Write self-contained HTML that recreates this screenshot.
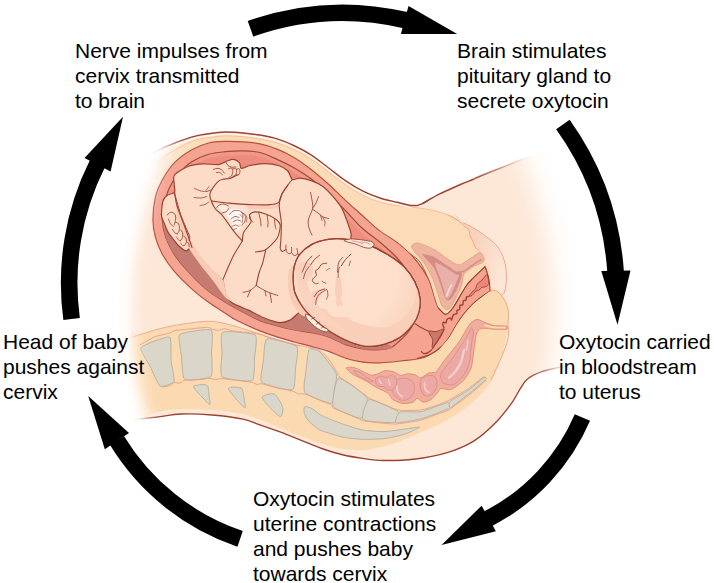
<!DOCTYPE html>
<html><head><meta charset="utf-8">
<style>
html,body{margin:0;padding:0;background:#fff;}
body{width:714px;height:583px;position:relative;overflow:hidden;font-family:"Liberation Sans",sans-serif;}
.t{position:absolute;font-size:21px;line-height:25px;color:#000;white-space:nowrap;}
svg{position:absolute;left:0;top:0;}
</style></head><body>
<svg id="art" width="714" height="583" viewBox="0 0 714 583">
<!--ART-->
<defs><linearGradient id="fatg" gradientUnits="userSpaceOnUse" x1="160" y1="190" x2="215" y2="150"><stop offset="0" stop-color="#fbdcb6" stop-opacity="0"/><stop offset="1" stop-color="#fbdcb6" stop-opacity="1"/></linearGradient><linearGradient id="lineg" gradientUnits="userSpaceOnUse" x1="470" y1="0" x2="535" y2="0"><stop offset="0" stop-color="#9b4330" stop-opacity="1"/><stop offset="1" stop-color="#9b4330" stop-opacity="0"/></linearGradient><radialGradient id="headg" gradientUnits="userSpaceOnUse" cx="350" cy="278" r="78"><stop offset="0" stop-color="#fde2cf"/><stop offset="0.6" stop-color="#fddfcb"/><stop offset="0.85" stop-color="#fbd6c0"/><stop offset="1" stop-color="#f9cdb5"/></radialGradient><linearGradient id="darkg" gradientUnits="userSpaceOnUse" x1="0" y1="188" x2="0" y2="232"><stop offset="0" stop-color="#c67b70" stop-opacity="0"/><stop offset="1" stop-color="#c67b70" stop-opacity="1"/></linearGradient><linearGradient id="labg" gradientUnits="userSpaceOnUse" x1="470" y1="250" x2="506" y2="262"><stop offset="0" stop-color="#f8d2bd"/><stop offset="1" stop-color="#fde6d6"/></linearGradient><filter id="bl7" x="-20%" y="-20%" width="140%" height="140%"><feGaussianBlur stdDeviation="7"/></filter><filter id="bl12" x="-20%" y="-20%" width="140%" height="140%"><feGaussianBlur stdDeviation="12"/></filter><clipPath id="lh"><rect x="0" y="0" width="345" height="583"/></clipPath><clipPath id="rh"><rect x="345" y="0" width="369" height="583"/></clipPath><mask id="fade" maskUnits="userSpaceOnUse" x="0" y="0" width="714" height="583"><g clip-path="url(#lh)"><ellipse cx="345" cy="310" rx="213" ry="290" fill="#fff" filter="url(#bl7)"/></g><g clip-path="url(#rh)"><ellipse cx="345" cy="310" rx="209" ry="290" fill="#fff" filter="url(#bl12)"/></g></mask></defs>
<g mask="url(#fade)">
<path d="M120.0 172.0C123.3 170.0 132.5 164.2 140.0 160.0C147.5 155.8 156.4 150.8 165.0 147.0C173.6 143.2 184.1 139.3 191.4 137.1C198.7 134.9 202.9 134.5 208.6 133.7C214.3 132.8 220.0 132.1 225.7 132.0C231.4 131.9 237.2 132.4 242.9 132.9C248.6 133.4 254.3 134.1 260.0 135.1C265.7 136.1 271.4 137.1 277.1 138.9C282.8 140.7 288.6 143.0 294.3 145.7C300.0 148.4 305.7 151.4 311.4 155.1C317.1 158.8 322.9 163.7 328.6 168.0C334.3 172.3 340.0 177.1 345.7 180.9C351.4 184.8 357.2 188.2 362.9 191.1C368.6 193.9 374.3 196.1 380.0 198.0C385.7 199.9 392.9 201.2 397.1 202.3C401.3 203.4 402.6 203.8 405.0 204.3C407.4 204.9 410.2 205.4 411.2 205.6L416.8 205.6C417.7 205.3 420.5 204.5 422.4 203.6C424.3 202.7 425.2 201.9 428.0 200.3C430.8 198.7 435.5 196.0 439.2 194.1C442.9 192.2 446.7 190.7 450.4 189.0C454.1 187.3 457.9 185.6 461.6 184.0C465.3 182.4 469.7 180.8 472.8 179.5C475.9 178.2 475.5 178.1 480.0 176.2C484.5 174.3 493.2 170.9 500.0 168.2C506.8 165.5 515.8 161.8 521.0 159.8C526.2 157.8 525.0 158.3 531.5 156.3C538.0 154.3 545.2 151.6 560.0 148.0C574.8 144.4 610.0 137.2 620.0 135.0L620.0 352.0L620.0 352.0C613.3 353.7 590.3 359.4 580.0 362.0C569.7 364.6 564.7 366.0 558.2 367.6C551.8 369.2 546.3 370.0 541.3 371.9C536.2 373.8 531.2 376.2 527.9 378.7C524.5 381.2 524.0 382.9 521.2 387.1C518.4 391.3 515.6 397.8 511.1 403.9C506.6 410.0 500.5 417.9 494.3 424.0C488.1 430.1 482.0 436.0 474.1 440.8C466.2 445.6 457.3 449.5 447.2 452.6C437.1 455.7 424.2 458.0 413.6 459.3C403.0 460.6 391.9 460.6 383.5 460.5C375.1 460.4 369.8 459.4 362.9 458.4C356.0 457.4 349.2 456.3 342.4 454.7C335.5 453.1 328.7 450.9 321.8 448.5C314.9 446.1 308.1 443.0 301.2 440.3C294.3 437.6 287.5 434.7 280.6 432.1C273.7 429.5 266.3 427.1 260.0 424.9C253.7 422.7 251.0 420.8 243.0 419.1C235.0 417.5 222.4 415.9 212.1 415.0C201.8 414.1 190.5 413.6 181.2 414.0C171.9 414.4 166.7 415.3 156.5 417.1C146.3 418.9 126.1 423.7 120.0 425.0Z" fill="#fde7d7" stroke="none" stroke-width="1" />
<path d="M455.0 215.0C454.1 212.7 460.7 221.0 463.2 222.8C465.7 224.6 470.9 226.3 474.0 228.2C477.1 230.1 483.4 234.5 486.3 236.7C489.2 238.9 493.5 242.1 495.6 244.4C497.7 246.7 500.4 250.8 501.7 253.7C503.0 256.6 505.0 262.5 505.6 266.0C506.2 269.5 506.5 276.5 506.4 280.0C506.3 283.5 505.2 289.9 504.5 292.0C503.8 294.1 503.2 295.6 501.3 295.5C499.4 295.4 492.3 294.9 490.0 291.0C487.7 287.1 486.7 272.8 484.0 266.0C481.3 259.2 473.9 246.8 470.0 240.0C466.1 233.2 455.9 217.3 455.0 215.0Z" fill="url(#labg)" stroke="none" stroke-width="1" />
<path d="M150.0 168.0C153.3 165.5 163.1 157.4 170.0 153.0C176.9 148.6 185.0 144.1 191.4 141.5C197.8 138.9 202.9 138.5 208.6 137.6C214.3 136.7 220.0 136.0 225.7 135.8C231.4 135.7 237.2 136.2 242.9 136.7C248.6 137.2 254.3 138.0 260.0 139.0C265.7 140.0 271.4 141.1 277.1 142.9C282.8 144.7 288.6 147.0 294.3 149.7C300.0 152.4 305.7 155.6 311.4 159.3C317.1 163.0 322.9 167.7 328.6 172.0C334.3 176.3 340.0 181.1 345.7 185.0C351.4 188.9 357.2 192.3 362.9 195.2C368.6 198.1 374.3 200.6 380.0 202.3C385.7 204.0 391.3 204.5 397.0 205.3C402.7 206.2 408.6 206.6 414.3 207.4C420.0 208.2 425.7 208.7 431.4 210.0C437.1 211.3 444.2 213.3 448.6 215.1C453.0 216.8 455.4 218.7 458.0 220.5C460.6 222.3 462.1 224.4 464.0 226.0C465.9 227.6 468.1 228.6 469.1 230.3C470.1 232.0 469.3 234.0 470.0 236.0C470.7 238.0 472.6 240.5 473.4 242.3C474.2 244.1 474.0 245.6 475.0 247.0C476.0 248.4 478.7 250.2 479.4 250.9L487.0 262.0C487.2 263.7 490.8 265.7 488.0 272.0C485.2 278.3 476.3 292.3 470.0 300.0C463.7 307.7 456.7 318.0 450.0 318.0C443.3 318.0 438.3 311.3 430.0 300.0C421.7 288.7 413.3 261.7 400.0 250.0C386.7 238.3 366.7 238.3 350.0 230.0C333.3 221.7 316.7 210.0 300.0 200.0C283.3 190.0 266.7 176.7 250.0 170.0C233.3 163.3 214.2 159.2 200.0 160.0C185.8 160.8 173.3 170.8 165.0 175.0C156.7 179.2 152.5 183.3 150.0 185.0Z" fill="url(#fatg)" stroke="none" stroke-width="1" />
<path d="M150.0 168.0C153.3 165.5 163.1 157.4 170.0 153.0C176.9 148.6 185.0 144.1 191.4 141.5C197.8 138.9 202.9 138.5 208.6 137.6C214.3 136.7 220.0 136.0 225.7 135.8C231.4 135.7 237.2 136.2 242.9 136.7C248.6 137.2 254.3 138.0 260.0 139.0C265.7 140.0 271.4 141.1 277.1 142.9C282.8 144.7 288.6 147.0 294.3 149.7C300.0 152.4 305.7 155.6 311.4 159.3C317.1 163.0 322.9 167.7 328.6 172.0C334.3 176.3 340.0 181.1 345.7 185.0C351.4 188.9 357.2 192.3 362.9 195.2C368.6 198.1 374.3 200.6 380.0 202.3C385.7 204.0 391.3 204.5 397.0 205.3C402.7 206.2 408.6 206.6 414.3 207.4C420.0 208.2 425.7 208.7 431.4 210.0C437.1 211.3 444.2 213.3 448.6 215.1C453.0 216.8 456.4 219.6 458.0 220.5" fill="none" stroke="#f3b58f" stroke-width="0.8" />
<path d="M448.6 215.1C450.2 216.0 455.4 218.7 458.0 220.5C460.6 222.3 462.1 224.4 464.0 226.0C465.9 227.6 468.1 228.6 469.1 230.3C470.1 232.0 469.3 234.0 470.0 236.0C470.7 238.0 472.6 240.5 473.4 242.3C474.2 244.1 474.0 245.6 475.0 247.0C476.0 248.4 478.7 250.2 479.4 250.9" fill="none" stroke="#e79a7c" stroke-width="0.8" />
<path d="M130.0 338.0C131.7 324.1 134.9 336.3 140.0 334.7C145.1 333.1 153.7 330.2 160.6 328.5C167.5 326.8 173.3 325.6 181.2 324.4C189.1 323.2 200.1 321.3 208.0 321.3C215.9 321.3 220.6 322.5 228.5 324.4C236.4 326.3 246.7 329.9 255.3 332.6C263.9 335.4 272.6 338.7 280.0 340.9C287.4 343.1 291.7 343.8 300.0 346.0C308.3 348.2 320.0 352.0 330.0 354.0C340.0 356.0 348.3 358.0 360.0 358.0C371.7 358.0 386.7 357.0 400.0 354.0C413.3 351.0 429.0 346.0 440.0 340.0C451.0 334.0 459.0 325.0 466.0 318.0C473.0 311.0 478.0 302.8 482.0 298.0C486.0 293.2 487.0 290.0 490.0 289.0C493.0 288.0 497.2 289.6 500.0 292.0C502.8 294.4 505.5 299.6 507.0 303.4C508.5 307.2 508.8 311.2 509.0 315.0C509.2 318.8 508.6 321.8 508.0 326.0C507.4 330.2 506.4 335.9 505.6 340.0C504.9 344.1 505.2 345.3 503.5 350.9C501.8 356.5 498.7 366.6 495.3 373.5C491.9 380.4 488.4 385.9 482.9 392.1C477.4 398.3 469.2 405.5 462.4 410.6C455.5 415.8 448.7 419.4 441.8 423.0C434.9 426.6 428.1 429.2 421.2 432.2C414.3 435.2 406.9 438.6 400.6 441.0C394.3 443.4 389.8 445.0 383.5 446.5C377.2 448.0 369.8 449.6 362.9 450.0C356.0 450.4 349.2 450.0 342.4 449.0C335.5 448.0 328.7 446.1 321.8 444.0C314.9 441.9 308.1 438.9 301.2 436.2C294.3 433.5 287.5 430.6 280.6 427.9C273.7 425.1 266.3 422.0 260.0 419.7C253.7 417.4 251.0 415.6 243.0 414.0C235.0 412.4 222.4 410.8 212.1 410.0C201.8 409.2 190.5 408.7 181.2 409.0C171.9 409.3 165.0 410.5 156.5 412.0C148.0 413.5 134.4 430.3 130.0 418.0C125.6 405.7 128.3 351.9 130.0 338.0Z" fill="#fbdab2" stroke="none" stroke-width="1" />
<path d="M130.0 338.0C131.7 337.4 134.9 336.3 140.0 334.7C145.1 333.1 153.7 330.2 160.6 328.5C167.5 326.8 173.3 325.6 181.2 324.4C189.1 323.2 200.1 321.3 208.0 321.3C215.9 321.3 220.6 322.5 228.5 324.4C236.4 326.3 246.7 329.9 255.3 332.6C263.9 335.4 272.6 338.7 280.0 340.9C287.4 343.1 296.7 345.1 300.0 346.0" fill="none" stroke="#eda588" stroke-width="0.9" />
<path d="M141.0 347.5C142.6 345.1 167.0 336.0 169.5 337.0C172.0 338.0 170.6 356.3 171.0 360.0C171.4 363.7 174.9 379.3 174.0 381.5C173.1 383.7 162.0 387.3 160.0 386.0C158.0 384.7 151.6 369.2 150.0 366.0C148.4 362.8 139.4 349.9 141.0 347.5Z" fill="#dad6ca" stroke="#b3aea2" stroke-width="0.9" />
<path d="M179.8 334.5C182.3 332.3 208.4 328.3 211.0 329.8C213.6 331.3 211.5 348.1 211.5 352.0C211.5 355.9 213.2 374.2 211.0 376.5C208.8 378.8 187.1 381.1 184.6 379.4C182.1 377.7 181.9 359.7 181.5 356.0C181.1 352.3 177.3 336.7 179.8 334.5Z" fill="#dad6ca" stroke="#b3aea2" stroke-width="0.9" />
<path d="M222.6 332.2C225.4 330.6 252.5 332.9 255.2 335.0C257.9 337.1 254.8 354.2 254.5 358.0C254.2 361.8 254.9 379.0 252.2 380.6C249.5 382.2 224.5 379.0 222.0 376.8C219.5 374.6 221.9 357.7 222.0 354.0C222.1 350.3 219.8 333.8 222.6 332.2Z" fill="#dad6ca" stroke="#b3aea2" stroke-width="0.9" />
<path d="M267.0 338.8C269.8 337.7 294.4 344.2 296.8 346.6C299.2 349.0 295.9 364.4 295.5 368.0C295.1 371.6 295.4 388.6 292.6 389.8C289.8 391.0 264.2 384.8 261.8 382.3C259.4 379.8 263.1 363.6 263.5 360.0C263.9 356.4 264.2 339.9 267.0 338.8Z" fill="#dad6ca" stroke="#b3aea2" stroke-width="0.9" />
<path d="M309.2 349.2C310.4 347.7 317.7 350.0 320.0 352.0C322.3 354.0 335.1 370.7 336.3 373.7C337.5 376.7 334.9 385.5 334.5 388.0C334.1 390.5 334.0 403.1 331.5 403.5C329.0 403.9 306.9 395.4 304.8 392.6C302.7 389.8 305.6 373.6 306.0 370.0C306.4 366.4 308.0 350.7 309.2 349.2Z" fill="#dad6ca" stroke="#b3aea2" stroke-width="0.9" />
<path d="M338.6 378.0C341.4 377.3 365.1 394.4 367.0 397.8C368.9 401.2 363.8 417.5 361.0 418.2C358.2 418.9 335.2 409.9 333.3 406.5C331.4 403.1 335.8 378.7 338.6 378.0Z" fill="#dad6ca" stroke="#b3aea2" stroke-width="0.9" />
<path d="M369.0 399.5C371.9 398.8 395.9 409.6 398.0 411.5C400.1 413.4 396.7 421.8 393.8 422.5C390.9 423.2 365.1 421.4 363.0 419.5C360.9 417.6 366.1 400.2 369.0 399.5Z" fill="#dad6ca" stroke="#b3aea2" stroke-width="0.9" />
<path d="M400.0 412.0C402.1 411.1 417.2 412.4 421.2 411.6C425.2 410.8 445.6 402.7 447.9 402.4C450.2 402.1 450.7 407.1 448.5 408.5C446.3 409.9 425.6 417.6 421.2 418.8C416.8 420.0 397.8 423.4 396.0 422.8C394.2 422.2 397.9 412.9 400.0 412.0Z" fill="#dad6ca" stroke="#b3aea2" stroke-width="0.9" />
<path d="M450.0 401.5C451.5 400.0 465.7 392.0 468.5 390.0C471.3 388.0 482.5 378.5 484.0 377.6C485.5 376.7 487.3 378.1 486.0 379.5C484.7 380.9 471.5 391.8 468.5 394.1C465.5 396.4 452.0 406.9 450.5 407.5C449.0 408.1 448.5 403.0 450.0 401.5Z" fill="#dad6ca" stroke="#b3aea2" stroke-width="0.9" />
<path d="M193.5 386.5C194.0 384.8 204.8 384.0 206.9 385.3C209.0 386.6 208.6 393.4 209.0 396.0C209.4 398.6 210.8 404.4 210.0 404.7C209.2 405.0 205.2 400.4 203.0 398.0C200.8 395.6 193.0 388.2 193.5 386.5Z" fill="#dad6ca" stroke="#b3aea2" stroke-width="0.9" />
<path d="M228.5 388.4C229.0 386.8 238.9 386.7 241.0 388.0C243.1 389.3 243.5 395.4 244.0 398.0C244.5 400.6 245.9 407.5 245.0 407.8C244.1 408.1 239.2 402.6 237.0 400.0C234.8 397.4 228.0 390.0 228.5 388.4Z" fill="#dad6ca" stroke="#b3aea2" stroke-width="0.9" />
<path d="M262.3 397.0C262.8 395.2 271.7 392.8 274.4 394.2C277.1 395.6 281.8 404.4 282.6 407.4C283.4 410.4 282.2 416.5 280.6 416.6C279.0 416.7 272.7 410.6 270.3 408.0C267.9 405.4 261.8 398.8 262.3 397.0Z" fill="#dad6ca" stroke="#b3aea2" stroke-width="0.9" />
<path d="M304.5 407.0C305.4 406.2 308.7 406.9 311.0 408.0C313.3 409.1 317.6 413.5 321.8 415.6C326.0 417.7 336.9 421.9 342.4 423.8C347.9 425.7 357.2 429.0 362.9 430.0C368.6 431.0 378.5 431.8 385.0 431.5C391.5 431.2 407.4 428.6 412.0 428.0C416.6 427.4 420.4 426.5 419.5 427.3C418.6 428.1 409.6 432.5 405.0 434.0C400.4 435.5 390.6 437.8 385.0 438.5C379.4 439.2 368.2 439.4 362.9 439.3C357.6 439.2 349.1 438.2 345.0 437.5C340.9 436.8 335.3 435.1 332.0 434.1C328.7 433.1 323.0 431.6 320.0 430.0C317.0 428.4 311.5 423.9 309.4 421.8C307.3 419.7 305.2 416.0 304.5 414.0C303.8 412.0 303.6 407.8 304.5 407.0Z" fill="#dad6ca" stroke="#b3aea2" stroke-width="0.9" />
<path d="M140.0 344.9C141.7 344.0 151.2 338.3 154.6 336.9C158.0 335.5 166.8 334.0 169.2 333.2C171.6 332.4 173.3 330.7 175.0 330.3C176.7 329.9 181.0 329.9 183.7 329.6C186.4 329.3 195.4 328.4 198.3 328.1C201.2 327.8 206.8 327.2 208.5 327.4C210.2 327.6 211.7 329.3 212.9 329.6C214.1 329.9 217.3 330.4 218.7 330.3C220.1 330.2 223.2 328.6 224.6 328.6C226.0 328.6 228.6 329.9 230.4 330.3C232.2 330.7 237.1 331.4 240.0 331.8C242.9 332.2 252.9 333.1 255.3 333.4C257.8 333.7 259.7 334.1 261.0 334.5C262.3 334.9 264.2 335.8 266.6 336.6C269.1 337.4 278.5 340.0 282.0 341.0C285.5 342.0 294.4 344.6 296.8 345.2C299.2 345.8 301.6 345.7 303.0 346.0C304.4 346.3 307.2 347.1 309.2 347.6C311.2 348.1 317.6 348.9 320.0 350.5C322.4 352.1 328.0 358.4 330.0 361.0C332.0 363.6 336.4 371.2 337.5 373.0C338.6 374.8 337.2 375.0 339.0 376.5C340.8 378.0 349.7 383.7 353.0 386.0C356.3 388.3 365.1 394.9 367.0 396.3C368.9 397.7 367.0 397.0 369.0 398.0C371.0 399.0 380.6 403.1 384.0 404.5C387.4 405.9 395.0 409.3 398.0 410.0C401.0 410.7 407.3 410.3 410.0 410.3C412.7 410.3 418.3 410.5 421.2 410.0C424.1 409.5 431.9 407.1 435.0 406.0C438.1 404.9 445.2 402.1 447.9 400.8C450.6 399.5 455.6 396.4 458.0 395.0C460.4 393.6 466.3 390.0 468.5 388.5C470.7 387.0 475.2 383.4 477.0 382.0C478.8 380.6 483.2 377.0 484.0 376.3" fill="none" stroke="#e79e86" stroke-width="0.9" />
<path d="M161.9 387.0C162.9 386.8 169.2 386.0 170.6 385.5C172.0 385.0 172.3 383.1 173.5 382.8C174.7 382.5 179.6 383.3 180.8 383.0C182.0 382.7 181.7 380.9 183.7 380.5C185.7 380.1 195.2 379.8 198.3 379.6C201.4 379.4 208.0 378.4 210.0 378.4C212.0 378.4 214.4 379.6 215.8 379.6C217.2 379.6 218.8 378.5 221.6 378.6C224.4 378.7 236.4 380.4 240.0 380.8C243.6 381.2 250.2 381.9 252.2 382.3C254.2 382.7 255.9 384.3 257.0 384.5C258.1 384.7 259.5 383.4 261.8 383.8C264.1 384.2 273.4 387.1 277.0 388.0C280.6 388.9 290.1 390.5 292.6 391.2C295.1 391.9 297.1 393.7 298.5 394.0C299.9 394.3 302.5 393.4 304.8 394.0C307.1 394.6 314.9 398.2 318.0 399.5C321.1 400.8 329.8 404.0 331.5 405.0C333.2 406.0 331.2 407.0 333.0 408.0C334.8 409.0 343.7 412.1 347.0 413.5C350.3 414.9 359.1 418.7 361.0 419.6C362.9 420.5 361.0 420.4 363.0 420.8C365.0 421.2 374.4 422.4 378.0 422.8C381.6 423.2 391.7 423.9 393.8 424.0C395.9 424.1 394.3 424.2 396.0 424.0C397.7 423.8 405.1 423.0 408.0 422.5C410.9 422.0 418.1 420.9 421.2 420.0C424.3 419.1 431.8 416.2 435.0 415.0C438.2 413.8 445.7 411.5 448.5 410.0C451.3 408.5 456.7 404.2 459.0 402.5C461.3 400.8 466.3 397.2 468.5 395.5C470.7 393.8 476.0 389.2 478.0 387.5C480.0 385.8 485.1 381.3 486.0 380.5" fill="none" stroke="#e79e86" stroke-width="0.9" />
<path d="M130.0 420.0C134.4 419.5 148.0 418.1 156.5 417.1C165.0 416.1 171.9 414.4 181.2 414.0C190.5 413.6 201.8 414.1 212.1 415.0C222.4 415.9 235.0 417.5 243.0 419.1C251.0 420.8 253.7 422.7 260.0 424.9C266.3 427.1 273.7 429.5 280.6 432.1C287.5 434.7 294.3 437.6 301.2 440.3C308.1 443.0 314.9 446.1 321.8 448.5C328.7 450.9 335.5 453.1 342.4 454.7C349.2 456.3 356.0 457.4 362.9 458.4C369.8 459.4 375.1 460.4 383.5 460.5C391.9 460.6 403.0 460.6 413.6 459.3C424.2 458.0 437.1 455.7 447.2 452.6C457.3 449.5 466.2 445.6 474.1 440.8C482.0 436.0 488.1 430.1 494.3 424.0C500.5 417.9 506.6 410.0 511.1 403.9C515.6 397.8 518.4 391.3 521.2 387.1C524.0 382.9 524.5 381.2 527.9 378.7C531.2 376.2 536.2 373.8 541.3 371.9C546.3 370.0 551.8 369.2 558.2 367.6C564.7 366.0 576.4 362.9 580.0 362.0" fill="none" stroke="#9b4330" stroke-width="1.4" />
<path d="M225.7 141.4C231.4 141.2 237.2 141.4 242.9 141.8C248.6 142.2 254.3 142.6 260.0 143.8C265.7 145.0 271.4 146.8 277.1 149.1C282.8 151.4 288.6 154.3 294.3 157.7C300.0 161.1 305.7 165.3 311.4 169.7C317.1 174.1 322.9 179.2 328.6 184.3C334.3 189.5 340.0 195.3 345.7 200.6C351.4 205.9 357.2 210.9 362.9 216.0C368.6 221.1 374.3 226.7 380.0 231.1C385.7 235.5 392.0 238.4 397.1 242.3C402.2 246.2 406.6 249.7 410.9 254.3C415.2 258.9 419.5 264.6 422.9 269.7C426.3 274.8 429.0 279.7 431.4 285.1C433.8 290.5 435.4 297.7 437.4 302.3C439.4 306.9 441.8 309.3 443.4 312.6C445.0 315.9 446.9 318.1 447.0 322.0C447.1 325.9 445.8 331.5 444.0 336.0C442.2 340.5 439.3 345.4 436.0 349.0C432.7 352.6 429.9 355.5 424.0 357.5C418.1 359.5 407.9 360.1 400.6 361.0C393.3 361.9 386.3 362.6 380.0 362.8C373.7 363.0 368.6 363.0 362.9 362.2C357.2 361.4 351.4 360.0 345.7 358.2C340.0 356.4 334.3 353.4 328.6 351.4C322.9 349.4 317.1 347.9 311.4 346.3C305.7 344.7 300.0 343.6 294.3 342.0C288.6 340.4 282.8 338.8 277.1 336.9C271.4 335.0 266.9 333.7 260.0 330.9C253.2 328.1 241.7 322.9 236.0 320.0C230.3 317.1 230.3 316.3 225.7 313.4C221.1 310.4 214.3 306.4 208.6 302.3C202.9 298.2 197.1 293.8 191.4 288.6C185.7 283.5 179.2 277.1 174.3 271.4C169.5 265.7 165.5 260.0 162.3 254.3C159.2 248.6 157.0 242.8 155.4 237.1C153.8 231.4 152.9 226.7 152.9 220.0C152.9 213.3 153.8 203.7 155.4 197.0C157.0 190.3 159.2 185.7 162.3 180.0C165.5 174.3 169.5 167.9 174.3 162.9C179.2 157.9 185.7 153.3 191.4 150.0C197.1 146.7 202.9 144.4 208.6 143.0C214.3 141.6 220.0 141.6 225.7 141.4Z" fill="#f5a492" stroke="#b5523f" stroke-width="1.2" />
<clipPath id="cav"><path d="M225.7 151.7C231.4 151.1 237.2 150.8 242.9 150.9C248.6 151.0 254.3 151.1 260.0 152.5C265.7 153.9 271.4 156.8 277.1 159.4C282.8 162.0 288.6 164.7 294.3 168.0C300.0 171.3 305.7 174.8 311.4 179.1C317.1 183.4 322.9 188.4 328.6 193.7C334.3 199.0 340.1 205.2 345.7 210.9C351.3 216.6 356.3 222.8 362.0 228.0C367.7 233.2 374.1 237.3 380.0 242.3C385.9 247.3 392.6 253.2 397.1 258.0C401.6 262.8 404.2 266.3 407.0 271.0C409.8 275.7 412.4 280.8 414.0 286.0C415.6 291.2 416.3 296.8 416.5 302.3C416.7 307.8 416.2 314.2 415.0 319.0C413.8 323.8 411.5 327.4 409.0 331.0C406.5 334.6 403.0 337.8 400.0 340.5C397.0 343.2 394.3 346.0 391.0 347.5C387.7 349.0 384.7 349.5 380.0 349.7C375.3 349.9 368.6 349.8 362.9 348.9C357.2 348.0 351.4 346.6 345.7 344.6C340.0 342.6 334.3 338.9 328.6 336.9C322.9 334.9 317.1 333.8 311.4 332.6C305.7 331.5 300.0 331.1 294.3 330.0C288.6 328.9 282.8 327.3 277.1 325.7C271.4 324.1 267.1 323.7 260.0 320.6C252.9 317.6 241.5 311.3 234.3 307.4C227.2 303.5 222.2 300.5 217.1 297.1C211.9 293.7 208.2 291.2 203.4 286.9C198.6 282.6 192.8 276.8 188.0 271.4C183.2 266.0 178.0 260.0 174.3 254.3C170.6 248.6 167.7 242.8 165.7 237.1C163.7 231.4 162.6 225.2 162.3 220.0C162.0 214.8 162.9 210.9 164.0 205.7C165.1 200.5 166.8 193.7 169.1 188.6C171.4 183.5 174.0 179.3 177.7 174.9C181.4 170.5 186.2 165.4 191.4 162.0C196.6 158.6 202.9 156.0 208.6 154.3C214.3 152.6 220.0 152.3 225.7 151.7Z"/></clipPath>
<path d="M225.7 151.7C231.4 151.1 237.2 150.8 242.9 150.9C248.6 151.0 254.3 151.1 260.0 152.5C265.7 153.9 271.4 156.8 277.1 159.4C282.8 162.0 288.6 164.7 294.3 168.0C300.0 171.3 305.7 174.8 311.4 179.1C317.1 183.4 322.9 188.4 328.6 193.7C334.3 199.0 340.1 205.2 345.7 210.9C351.3 216.6 356.3 222.8 362.0 228.0C367.7 233.2 374.1 237.3 380.0 242.3C385.9 247.3 392.6 253.2 397.1 258.0C401.6 262.8 404.2 266.3 407.0 271.0C409.8 275.7 412.4 280.8 414.0 286.0C415.6 291.2 416.3 296.8 416.5 302.3C416.7 307.8 416.2 314.2 415.0 319.0C413.8 323.8 411.5 327.4 409.0 331.0C406.5 334.6 403.0 337.8 400.0 340.5C397.0 343.2 394.3 346.0 391.0 347.5C387.7 349.0 384.7 349.5 380.0 349.7C375.3 349.9 368.6 349.8 362.9 348.9C357.2 348.0 351.4 346.6 345.7 344.6C340.0 342.6 334.3 338.9 328.6 336.9C322.9 334.9 317.1 333.8 311.4 332.6C305.7 331.5 300.0 331.1 294.3 330.0C288.6 328.9 282.8 327.3 277.1 325.7C271.4 324.1 267.1 323.7 260.0 320.6C252.9 317.6 241.5 311.3 234.3 307.4C227.2 303.5 222.2 300.5 217.1 297.1C211.9 293.7 208.2 291.2 203.4 286.9C198.6 282.6 192.8 276.8 188.0 271.4C183.2 266.0 178.0 260.0 174.3 254.3C170.6 248.6 167.7 242.8 165.7 237.1C163.7 231.4 162.6 225.2 162.3 220.0C162.0 214.8 162.9 210.9 164.0 205.7C165.1 200.5 166.8 193.7 169.1 188.6C171.4 183.5 174.0 179.3 177.7 174.9C181.4 170.5 186.2 165.4 191.4 162.0C196.6 158.6 202.9 156.0 208.6 154.3C214.3 152.6 220.0 152.3 225.7 151.7Z" fill="#ee8d7d" stroke="none" stroke-width="1" />
<path d="M225.7 151.7C231.4 151.1 237.2 150.8 242.9 150.9C248.6 151.0 254.3 151.1 260.0 152.5C265.7 153.9 271.4 156.8 277.1 159.4C282.8 162.0 288.6 164.7 294.3 168.0C300.0 171.3 305.7 174.8 311.4 179.1C317.1 183.4 322.9 188.4 328.6 193.7C334.3 199.0 340.1 205.2 345.7 210.9C351.3 216.6 356.3 222.8 362.0 228.0C367.7 233.2 374.1 237.3 380.0 242.3C385.9 247.3 392.6 253.2 397.1 258.0C401.6 262.8 404.2 266.3 407.0 271.0C409.8 275.7 412.4 280.8 414.0 286.0C415.6 291.2 416.3 296.8 416.5 302.3C416.7 307.8 416.2 314.2 415.0 319.0C413.8 323.8 411.5 327.4 409.0 331.0C406.5 334.6 403.0 337.8 400.0 340.5C397.0 343.2 394.3 346.0 391.0 347.5C387.7 349.0 384.7 349.5 380.0 349.7C375.3 349.9 368.6 349.8 362.9 348.9C357.2 348.0 351.4 346.6 345.7 344.6C340.0 342.6 334.3 338.9 328.6 336.9C322.9 334.9 317.1 333.8 311.4 332.6C305.7 331.5 300.0 331.1 294.3 330.0C288.6 328.9 282.8 327.3 277.1 325.7C271.4 324.1 267.1 323.7 260.0 320.6C252.9 317.6 241.5 311.3 234.3 307.4C227.2 303.5 222.2 300.5 217.1 297.1C211.9 293.7 208.2 291.2 203.4 286.9C198.6 282.6 192.8 276.8 188.0 271.4C183.2 266.0 178.0 260.0 174.3 254.3C170.6 248.6 167.7 242.8 165.7 237.1C163.7 231.4 162.6 225.2 162.3 220.0C162.0 214.8 162.9 210.9 164.0 205.7C165.1 200.5 166.8 193.7 169.1 188.6C171.4 183.5 174.0 179.3 177.7 174.9C181.4 170.5 186.2 165.4 191.4 162.0C196.6 158.6 202.9 156.0 208.6 154.3C214.3 152.6 220.0 152.3 225.7 151.7Z" fill="none" stroke="#f19987" stroke-width="8" clip-path="url(#cav)"/>
<path d="M225.7 151.7C231.4 151.1 237.2 150.8 242.9 150.9C248.6 151.0 254.3 151.1 260.0 152.5C265.7 153.9 271.4 156.8 277.1 159.4C282.8 162.0 288.6 164.7 294.3 168.0C300.0 171.3 305.7 174.8 311.4 179.1C317.1 183.4 322.9 188.4 328.6 193.7C334.3 199.0 340.1 205.2 345.7 210.9C351.3 216.6 356.3 222.8 362.0 228.0C367.7 233.2 374.1 237.3 380.0 242.3C385.9 247.3 392.6 253.2 397.1 258.0C401.6 262.8 404.2 266.3 407.0 271.0C409.8 275.7 412.4 280.8 414.0 286.0C415.6 291.2 416.3 296.8 416.5 302.3C416.7 307.8 416.2 314.2 415.0 319.0C413.8 323.8 411.5 327.4 409.0 331.0C406.5 334.6 403.0 337.8 400.0 340.5C397.0 343.2 394.3 346.0 391.0 347.5C387.7 349.0 384.7 349.5 380.0 349.7C375.3 349.9 368.6 349.8 362.9 348.9C357.2 348.0 351.4 346.6 345.7 344.6C340.0 342.6 334.3 338.9 328.6 336.9C322.9 334.9 317.1 333.8 311.4 332.6C305.7 331.5 300.0 331.1 294.3 330.0C288.6 328.9 282.8 327.3 277.1 325.7C271.4 324.1 267.1 323.7 260.0 320.6C252.9 317.6 241.5 311.3 234.3 307.4C227.2 303.5 222.2 300.5 217.1 297.1C211.9 293.7 208.2 291.2 203.4 286.9C198.6 282.6 192.8 276.8 188.0 271.4C183.2 266.0 178.0 260.0 174.3 254.3C170.6 248.6 167.7 242.8 165.7 237.1C163.7 231.4 162.6 225.2 162.3 220.0C162.0 214.8 162.9 210.9 164.0 205.7C165.1 200.5 166.8 193.7 169.1 188.6C171.4 183.5 174.0 179.3 177.7 174.9C181.4 170.5 186.2 165.4 191.4 162.0C196.6 158.6 202.9 156.0 208.6 154.3C214.3 152.6 220.0 152.3 225.7 151.7Z" fill="none" stroke="#a64a38" stroke-width="1.2" />
<path d="M177.7 174.9C176.8 174.3 170.9 184.5 169.1 188.6C167.3 192.7 164.9 201.5 164.0 205.7C163.1 209.9 162.1 215.8 162.3 220.0C162.5 224.2 164.1 232.5 165.7 237.1C167.3 241.7 171.3 249.7 174.3 254.3C177.3 258.9 184.1 267.1 188.0 271.4C191.9 275.7 199.5 283.5 203.4 286.9C207.3 290.3 213.0 294.4 217.1 297.1C221.2 299.8 228.6 304.3 234.3 307.4C240.0 310.5 254.3 318.2 260.0 320.6C265.7 323.0 272.5 324.4 277.1 325.7C281.7 327.0 289.7 329.1 294.3 330.0C298.9 330.9 306.8 331.7 311.4 332.6C316.0 333.5 324.0 335.3 328.6 336.9C333.2 338.5 341.1 343.0 345.7 344.6C350.3 346.2 358.3 348.2 362.9 348.9C367.5 349.6 376.1 349.8 380.0 349.7C383.9 349.6 391.5 348.9 392.0 348.0C392.5 347.1 389.3 344.1 383.8 343.0C378.3 341.9 357.8 341.6 350.9 340.0C344.0 338.4 337.1 333.9 332.4 331.0C327.7 328.1 320.2 321.7 315.9 318.6C311.6 315.5 303.5 308.1 300.0 308.0C296.5 307.9 292.8 316.3 290.0 318.0C287.2 319.7 282.8 320.9 279.3 320.6C275.8 320.3 268.0 317.5 263.9 315.8C259.8 314.1 252.8 310.2 248.5 308.1C244.2 306.0 234.5 302.5 231.6 300.4C228.7 298.3 227.4 294.7 226.4 292.0C225.4 289.3 225.9 283.1 224.0 280.0C222.1 276.9 215.2 272.3 212.0 269.0C208.8 265.7 202.7 258.2 200.0 255.0C197.3 251.8 193.9 245.9 192.0 245.0C190.1 244.1 188.1 248.8 186.0 248.0C183.9 247.2 178.1 241.4 176.0 239.0C173.9 236.6 171.3 232.5 170.0 230.0C168.7 227.5 166.7 223.3 166.0 220.0C165.3 216.7 164.5 208.2 165.0 205.0C165.5 201.8 168.5 197.6 170.0 196.0C171.5 194.4 175.0 195.8 176.0 193.0C177.0 190.2 178.6 175.5 177.7 174.9Z" fill="url(#darkg)"/>
<path d="M233.4 159.4C235.1 159.6 238.3 161.4 239.4 162.6C240.5 163.8 239.9 167.9 241.3 168.3C242.7 168.7 246.9 166.1 250.0 165.5C253.1 164.9 260.7 163.6 264.6 163.6C268.5 163.6 276.1 164.8 279.2 165.8C282.3 166.8 286.2 169.2 287.9 171.0C289.6 172.8 290.7 178.5 292.3 179.5C293.9 180.5 297.1 178.1 299.6 178.2C302.1 178.3 308.1 179.5 311.2 180.6C314.3 181.7 320.0 184.3 322.9 186.4C325.8 188.5 330.6 193.7 333.1 196.6C335.6 199.5 339.9 204.8 341.8 208.3C343.7 211.8 346.5 219.6 347.7 222.9C348.9 226.2 350.4 230.7 351.0 233.0C351.6 235.3 349.8 238.5 352.0 240.0C354.2 241.5 362.6 242.4 367.4 244.4C372.2 246.4 383.1 251.7 388.0 254.7C392.9 257.7 400.8 263.5 404.4 267.1C408.0 270.7 412.6 277.4 414.7 281.5C416.8 285.6 419.4 293.8 419.9 297.9C420.4 302.0 419.8 308.8 418.8 312.4C417.8 316.0 415.2 321.4 412.7 324.7C410.2 328.0 404.2 334.5 400.3 337.1C396.4 339.7 388.2 343.1 383.8 344.3C379.4 345.5 371.8 346.6 367.4 346.3C363.0 346.0 355.6 344.0 350.9 342.2C346.2 340.4 337.1 335.9 332.4 333.0C327.7 330.1 319.8 323.7 315.9 320.6C312.0 317.5 305.9 310.9 303.5 310.0C301.1 309.1 299.8 312.2 298.0 313.5C296.2 314.8 292.6 318.9 290.1 320.1C287.6 321.3 282.8 322.9 279.3 322.6C275.8 322.3 268.0 319.5 263.9 317.8C259.8 316.1 252.8 312.2 248.5 310.1C244.2 308.0 234.7 304.7 231.6 302.4C228.5 300.1 226.5 296.0 225.4 293.1C224.3 290.2 224.0 283.3 223.0 281.0C222.0 278.7 219.5 277.3 218.0 276.0C216.5 274.7 214.4 273.8 212.0 271.4C209.6 269.0 202.7 260.9 200.0 257.7C197.3 254.5 193.8 248.4 192.0 247.5C190.2 246.6 187.9 251.0 186.3 250.9C184.7 250.8 181.6 248.4 180.0 247.0C178.4 245.6 175.9 242.6 174.3 240.6C172.7 238.6 169.3 234.3 168.0 232.0C166.7 229.7 165.3 225.8 164.4 223.6C163.5 221.4 161.7 218.6 161.5 215.6C161.3 212.6 162.1 203.7 162.9 201.0C163.7 198.3 165.7 196.4 167.3 195.2C168.9 194.0 173.7 193.8 174.6 192.3C175.5 190.8 174.2 186.3 174.2 184.0C174.2 181.7 172.6 177.2 174.6 174.8C176.6 172.4 185.3 167.5 189.2 166.0C193.1 164.5 199.8 164.0 203.7 163.8C207.6 163.6 215.2 165.0 218.3 164.6C221.4 164.2 225.0 161.7 227.0 161.0C229.0 160.3 231.7 159.2 233.4 159.4Z" fill="#fddcc7" stroke="#9b4330" stroke-width="1.2" />
<path d="M211.7 201.5C213.6 201.1 222.6 203.2 229.2 203.8C235.8 204.4 244.2 205.1 251.0 205.3C257.8 205.6 265.4 205.7 270.0 205.3C274.6 204.9 277.2 202.6 278.7 203.0C280.2 203.4 281.3 207.0 279.0 208.0C276.7 209.0 271.5 208.9 265.0 209.0C258.5 209.1 247.8 208.9 240.0 208.5C232.2 208.1 222.7 207.7 218.0 206.5C213.3 205.3 209.8 201.9 211.7 201.5Z" fill="#f8cbb6" stroke="none" stroke-width="1" />
<path d="M176.0 196.0C176.5 194.8 178.8 208.3 181.0 215.0C183.2 221.7 185.8 229.3 189.0 236.0C192.2 242.7 196.0 249.3 200.0 255.0C204.0 260.7 209.2 265.8 213.0 270.0C216.8 274.2 220.8 276.3 223.0 280.0C225.2 283.7 224.5 288.5 226.0 292.0C227.5 295.5 232.2 300.2 232.0 301.0C231.8 301.8 228.0 300.2 225.0 297.0C222.0 293.8 218.3 287.7 214.0 282.0C209.7 276.3 203.7 269.5 199.0 263.0C194.3 256.5 189.5 249.8 186.0 243.0C182.5 236.2 179.7 229.8 178.0 222.0C176.3 214.2 175.5 197.2 176.0 196.0Z" fill="#f8cbb6" stroke="none" stroke-width="1" />
<path d="M293.5 268.0C294.1 269.7 292.6 275.7 292.8 280.0C293.1 284.3 293.3 289.3 295.0 294.0C296.7 298.7 300.5 304.3 303.0 308.0C305.5 311.7 310.5 315.0 310.0 316.0C309.5 317.0 303.2 316.7 300.0 314.0C296.8 311.3 293.0 305.0 291.0 300.0C289.0 295.0 288.3 289.0 288.0 284.0C287.7 279.0 288.1 272.7 289.0 270.0C289.9 267.3 292.9 266.3 293.5 268.0Z" fill="#f8cbb6" stroke="none" stroke-width="1" />
<path d="M333.0 275.0C332.2 275.8 330.0 285.8 330.0 290.0C330.0 294.2 331.3 297.5 333.0 300.0C334.7 302.5 339.5 305.7 340.0 305.0C340.5 304.3 336.8 299.3 336.0 296.0C335.2 292.7 335.5 288.5 335.0 285.0C334.5 281.5 333.8 274.2 333.0 275.0Z" fill="#f8cbb6" stroke="none" stroke-width="1" />
<path d="M214.0 203.5C216.2 202.5 226.7 204.6 232.0 205.0C237.3 205.4 243.4 204.7 246.0 206.0C248.6 207.3 247.7 210.3 247.5 213.0C247.3 215.7 246.2 219.2 245.0 222.0C243.8 224.8 242.2 228.4 240.5 230.0C238.8 231.6 236.9 233.0 234.5 231.5C232.1 230.0 228.6 224.4 226.0 221.0C223.4 217.6 221.0 213.9 219.0 211.0C217.0 208.1 211.8 204.5 214.0 203.5Z" fill="#fbe1d1" stroke="none" stroke-width="1" />
<path d="M219.0 207.0C219.2 206.1 221.7 205.5 223.0 205.5C224.3 205.5 226.6 206.2 227.0 207.0C227.4 207.8 226.4 209.8 225.5 210.5C224.6 211.2 222.6 211.6 221.5 211.0C220.4 210.4 218.8 207.9 219.0 207.0Z" fill="#fdeee5" stroke="none" stroke-width="1" />
<path d="M227.0 212.0C227.8 210.7 230.7 209.3 233.0 209.0C235.3 208.7 239.0 209.0 241.0 210.0C243.0 211.0 244.5 213.2 245.0 215.0C245.5 216.8 245.2 219.5 244.0 221.0C242.8 222.5 240.2 224.0 238.0 224.0C235.8 224.0 232.7 222.2 231.0 221.0C229.3 219.8 228.7 218.5 228.0 217.0C227.3 215.5 226.2 213.3 227.0 212.0Z" fill="#fff8f3" stroke="none" stroke-width="1" />
<path d="M232.0 223.5C232.9 222.9 236.6 223.8 238.0 224.5C239.4 225.2 240.8 227.0 240.5 228.0C240.2 229.0 237.8 230.5 236.5 230.5C235.2 230.5 233.2 229.2 232.5 228.0C231.8 226.8 231.1 224.1 232.0 223.5Z" fill="#fff8f3" stroke="none" stroke-width="1" />
<path d="M216.5 208.0C216.8 207.6 218.0 205.5 219.0 205.0C220.0 204.5 222.7 203.9 224.0 204.0C225.3 204.1 227.9 205.7 228.5 206.0" fill="none" stroke="#9b4330" stroke-width="0.8" stroke-linecap="round" stroke-linejoin="round"/>
<path d="M222.0 213.0C222.6 212.8 225.6 212.2 226.5 211.5C227.4 210.8 228.7 208.5 229.0 208.0" fill="none" stroke="#9b4330" stroke-width="0.8" stroke-linecap="round" stroke-linejoin="round"/>
<path d="M229.5 214.5C230.0 214.0 231.8 211.5 233.0 211.0C234.2 210.5 237.2 210.2 238.5 210.5C239.8 210.8 241.9 212.1 242.5 213.0C243.1 213.9 242.9 216.5 243.0 217.0" fill="none" stroke="#9b4330" stroke-width="0.8" stroke-linecap="round" stroke-linejoin="round"/>
<path d="M231.0 219.0C231.5 218.7 233.9 216.7 235.0 216.5C236.1 216.3 238.5 217.4 239.0 217.5" fill="none" stroke="#9b4330" stroke-width="0.8" stroke-linecap="round" stroke-linejoin="round"/>
<path d="M233.5 221.5C234.0 221.3 236.6 220.1 237.5 220.0C238.4 219.9 240.1 220.9 240.5 221.0" fill="none" stroke="#9b4330" stroke-width="0.8" stroke-linecap="round" stroke-linejoin="round"/>
<path d="M241.5 212.0C242.0 212.5 244.5 214.3 245.0 215.5C245.5 216.7 245.4 219.7 245.0 221.0C244.6 222.3 242.4 224.5 242.0 225.0" fill="none" stroke="#9b4330" stroke-width="0.8" stroke-linecap="round" stroke-linejoin="round"/>
<path d="M243.5 213.0C243.9 213.5 246.4 215.8 246.8 217.0C247.2 218.2 246.5 221.3 246.5 222.0" fill="none" stroke="#9b4330" stroke-width="0.7" stroke-linecap="round" stroke-linejoin="round"/>
<path d="M240.0 214.5C240.4 215.0 242.5 216.9 242.8 218.0C243.1 219.1 242.1 221.9 242.0 222.5" fill="none" stroke="#9b4330" stroke-width="0.7" stroke-linecap="round" stroke-linejoin="round"/>
<path d="M232.0 226.5C232.5 226.3 234.6 225.0 235.5 225.0C236.4 225.0 238.5 226.3 239.0 226.5" fill="none" stroke="#9b4330" stroke-width="0.8" stroke-linecap="round" stroke-linejoin="round"/>
<path d="M233.5 229.5C233.9 229.4 236.1 228.6 236.5 228.5" fill="none" stroke="#9b4330" stroke-width="0.7" stroke-linecap="round" stroke-linejoin="round"/>
<path d="M292.3 179.5C291.7 180.2 289.3 183.1 287.9 185.0C286.5 186.9 283.3 191.4 282.1 193.7C280.9 196.0 280.3 200.9 278.7 202.4C277.1 203.9 273.7 204.3 270.0 204.6C266.3 204.9 256.4 204.8 251.0 204.6C245.6 204.4 234.4 203.6 229.2 203.1C224.0 202.6 214.0 201.2 211.7 200.9" fill="none" stroke="#9b4330" stroke-width="1.1" stroke-linecap="round" stroke-linejoin="round"/>
<path d="M237.3 174.8C236.3 175.3 231.9 177.8 230.0 178.4C228.1 179.0 224.3 178.8 222.7 179.2C221.1 179.6 219.5 180.3 218.3 181.3C217.1 182.3 215.0 184.9 213.9 186.4C212.8 187.9 210.8 190.8 210.3 192.3C209.8 193.8 209.5 195.8 210.2 198.0C210.9 200.2 213.8 206.8 215.4 209.0C217.0 211.2 219.5 211.9 221.9 214.8C224.3 217.7 230.8 227.3 233.5 230.8C236.2 234.3 241.1 239.6 242.3 241.0" fill="none" stroke="#9b4330" stroke-width="1.1" stroke-linecap="round" stroke-linejoin="round"/>
<path d="M225.8 162.3C226.1 162.7 227.2 164.8 228.0 165.5C228.8 166.2 230.9 167.0 232.0 167.2C233.1 167.4 235.5 166.9 236.0 166.8" fill="none" stroke="#9b4330" stroke-width="0.9" stroke-linecap="round" stroke-linejoin="round"/>
<path d="M228.5 168.8C228.9 168.7 230.9 167.6 231.5 168.0C232.1 168.4 232.8 170.4 232.8 171.5C232.8 172.6 232.0 175.2 231.5 176.0C231.0 176.8 229.2 177.3 228.8 177.5" fill="none" stroke="#9b4330" stroke-width="0.9" stroke-linecap="round" stroke-linejoin="round"/>
<path d="M232.8 169.0C233.2 168.9 235.1 168.0 235.6 168.3C236.1 168.6 236.6 170.6 236.6 171.5C236.6 172.4 236.0 174.6 235.5 175.2C235.0 175.8 233.3 176.2 233.0 176.3" fill="none" stroke="#9b4330" stroke-width="0.9" stroke-linecap="round" stroke-linejoin="round"/>
<path d="M236.6 169.3C236.9 169.2 238.7 168.5 239.2 168.8C239.7 169.1 240.0 170.7 240.0 171.5C240.0 172.3 239.4 174.0 239.0 174.5C238.6 175.0 237.1 175.2 236.8 175.3" fill="none" stroke="#9b4330" stroke-width="0.9" stroke-linecap="round" stroke-linejoin="round"/>
<path d="M213.5 169.3C214.1 169.2 216.9 168.2 218.0 168.3C219.1 168.4 221.2 169.4 222.0 170.0C222.8 170.6 224.0 172.7 224.3 173.1" fill="none" stroke="#9b4330" stroke-width="0.9" stroke-linecap="round" stroke-linejoin="round"/>
<path d="M216.5 172.5C217.0 172.5 219.2 172.2 220.0 172.5C220.8 172.8 222.2 174.7 222.5 175.0" fill="none" stroke="#9b4330" stroke-width="0.8" stroke-linecap="round" stroke-linejoin="round"/>
<path d="M194.5 188.5C195.4 188.8 199.3 190.6 201.0 191.0C202.7 191.4 205.8 191.6 207.0 191.5C208.2 191.4 209.9 190.2 210.3 190.0" fill="none" stroke="#9b4330" stroke-width="0.8" stroke-linecap="round" stroke-linejoin="round"/>
<path d="M194.0 197.5C194.9 197.6 199.3 198.1 201.0 198.0C202.7 197.9 206.2 196.7 207.0 196.5" fill="none" stroke="#9b4330" stroke-width="0.8" stroke-linecap="round" stroke-linejoin="round"/>
<path d="M200.0 205.5C200.7 205.4 203.8 205.0 205.0 204.5C206.2 204.0 208.5 202.3 209.0 202.0" fill="none" stroke="#9b4330" stroke-width="0.8" stroke-linecap="round" stroke-linejoin="round"/>
<path d="M206.0 190.5C206.4 190.0 208.6 187.0 209.0 186.5" fill="none" stroke="#9b4330" stroke-width="0.8" stroke-linecap="round" stroke-linejoin="round"/>
<path d="M174.6 192.3C174.9 194.1 175.7 201.6 176.9 205.7C178.1 209.8 181.9 219.0 183.3 222.9C184.7 226.8 186.5 231.7 187.7 235.0C188.9 238.3 191.4 245.8 192.0 247.5" fill="none" stroke="#9b4330" stroke-width="1.1" stroke-linecap="round" stroke-linejoin="round"/>
<path d="M174.3 192.7C174.6 193.9 176.0 198.8 176.9 201.7C177.8 204.6 179.5 211.2 180.7 214.6C181.9 218.0 184.7 224.6 185.9 227.5C187.1 230.4 189.3 234.8 189.7 236.5C190.1 238.2 189.2 239.8 189.1 240.3" fill="none" stroke="#9b4330" stroke-width="1.0" stroke-linecap="round" stroke-linejoin="round"/>
<path d="M167.2 215.2C167.5 214.9 168.7 213.2 169.5 212.8C170.3 212.4 172.2 212.1 173.0 212.5C173.8 212.9 175.3 214.8 175.6 215.9C175.9 217.0 175.7 219.3 175.5 220.5C175.3 221.7 174.5 224.3 174.3 224.9" fill="none" stroke="#9b4330" stroke-width="0.9" stroke-linecap="round" stroke-linejoin="round"/>
<path d="M168.5 219.0C168.8 219.7 169.8 223.0 170.5 224.0C171.2 225.0 173.4 226.2 173.8 226.5" fill="none" stroke="#9b4330" stroke-width="0.8" stroke-linecap="round" stroke-linejoin="round"/>
<path d="M175.6 222.3C176.0 222.5 177.8 222.8 178.3 223.5C178.8 224.2 179.4 226.4 179.5 227.5C179.6 228.6 179.1 230.7 178.8 231.5C178.5 232.3 177.4 233.2 177.2 233.5" fill="none" stroke="#9b4330" stroke-width="0.9" stroke-linecap="round" stroke-linejoin="round"/>
<path d="M172.5 229.5C172.8 230.0 174.3 232.4 175.0 233.0C175.7 233.6 177.2 233.9 177.5 234.0" fill="none" stroke="#9b4330" stroke-width="0.8" stroke-linecap="round" stroke-linejoin="round"/>
<path d="M180.7 230.0C180.9 230.3 182.2 231.6 182.5 232.5C182.8 233.4 182.8 235.6 182.7 236.5C182.6 237.4 181.8 239.0 181.5 239.5C181.2 240.0 180.3 240.4 180.1 240.5" fill="none" stroke="#9b4330" stroke-width="0.9" stroke-linecap="round" stroke-linejoin="round"/>
<path d="M176.5 237.0C176.8 237.4 178.0 239.5 178.5 240.0C179.0 240.5 180.1 240.5 180.3 240.6" fill="none" stroke="#9b4330" stroke-width="0.8" stroke-linecap="round" stroke-linejoin="round"/>
<path d="M184.2 236.5C184.4 236.8 185.7 237.8 186.0 238.5C186.3 239.2 186.6 240.8 186.5 241.6C186.4 242.4 185.6 244.0 185.3 244.5C185.0 245.0 184.2 245.4 184.0 245.5" fill="none" stroke="#9b4330" stroke-width="0.9" stroke-linecap="round" stroke-linejoin="round"/>
<path d="M180.5 243.0C180.8 243.3 182.0 245.2 182.5 245.5C183.0 245.8 183.8 245.6 184.0 245.6" fill="none" stroke="#9b4330" stroke-width="0.8" stroke-linecap="round" stroke-linejoin="round"/>
<path d="M187.5 242.0C187.7 242.3 188.8 243.4 189.0 244.0C189.2 244.6 189.1 246.4 189.1 246.8" fill="none" stroke="#9b4330" stroke-width="0.8" stroke-linecap="round" stroke-linejoin="round"/>
<path d="M242.3 241.0C242.5 239.8 242.5 234.8 243.7 232.3C244.9 229.8 250.2 224.4 251.0 222.1C251.8 219.8 249.0 216.2 249.6 214.8C250.2 213.4 253.3 212.0 255.4 211.9C257.5 211.8 262.9 213.0 265.6 214.0C268.3 215.0 273.9 217.7 275.8 219.2C277.7 220.7 280.0 222.5 280.2 225.0C280.4 227.5 279.2 234.8 277.3 238.1C275.4 241.4 268.5 247.9 265.6 249.8C262.7 251.7 256.8 251.7 255.4 252.0" fill="none" stroke="#9b4330" stroke-width="1.1" stroke-linecap="round" stroke-linejoin="round"/>
<path d="M258.5 212.5C258.8 213.5 260.2 218.2 260.5 220.0C260.8 221.8 260.9 225.2 261.0 226.0" fill="none" stroke="#9b4330" stroke-width="0.9" stroke-linecap="round" stroke-linejoin="round"/>
<path d="M267.0 215.0C267.1 215.9 267.9 220.4 268.0 222.0C268.1 223.6 267.8 226.3 267.8 227.0" fill="none" stroke="#9b4330" stroke-width="0.9" stroke-linecap="round" stroke-linejoin="round"/>
<path d="M274.5 218.5C274.6 219.4 274.8 223.6 275.0 225.0C275.2 226.4 275.9 228.5 276.0 229.0" fill="none" stroke="#9b4330" stroke-width="0.9" stroke-linecap="round" stroke-linejoin="round"/>
<path d="M249.6 214.8C249.7 215.4 249.5 218.0 250.0 219.0C250.5 220.0 252.6 221.6 253.0 222.0" fill="none" stroke="#9b4330" stroke-width="0.9" stroke-linecap="round" stroke-linejoin="round"/>
<path d="M242.3 241.0C241.1 242.9 235.5 251.7 233.5 255.6C231.5 259.5 228.4 266.8 227.0 270.0C225.6 273.2 223.6 278.1 223.1 279.3" fill="none" stroke="#9b4330" stroke-width="1.1" stroke-linecap="round" stroke-linejoin="round"/>
<path d="M265.6 250.5C265.2 252.2 263.5 260.0 262.7 262.9C261.9 265.8 260.2 269.0 259.3 272.0C258.4 275.0 256.6 283.6 256.2 285.4" fill="none" stroke="#9b4330" stroke-width="1.1" stroke-linecap="round" stroke-linejoin="round"/>
<path d="M243.1 292.4C244.0 292.1 248.3 291.4 250.0 290.5C251.7 289.6 255.4 286.1 256.2 285.4" fill="none" stroke="#9b4330" stroke-width="0.9" stroke-linecap="round" stroke-linejoin="round"/>
<path d="M250.5 290.0C250.1 290.9 247.9 296.1 247.5 297.0" fill="none" stroke="#9b4330" stroke-width="0.9" stroke-linecap="round" stroke-linejoin="round"/>
<path d="M256.2 285.4C257.0 285.9 260.7 288.4 262.4 289.3C264.1 290.2 266.5 291.6 268.6 292.4C270.7 293.2 276.6 295.1 277.8 295.5" fill="none" stroke="#9b4330" stroke-width="0.9" stroke-linecap="round" stroke-linejoin="round"/>
<path d="M265.0 290.5C265.1 291.2 265.9 295.3 266.0 296.0" fill="none" stroke="#9b4330" stroke-width="0.9" stroke-linecap="round" stroke-linejoin="round"/>
<path d="M270.0 293.0C270.2 294.3 271.4 301.1 271.6 302.4" fill="none" stroke="#9b4330" stroke-width="0.9" stroke-linecap="round" stroke-linejoin="round"/>
<path d="M287.9 185.0C287.0 186.4 282.5 192.5 281.3 195.2C280.1 197.9 279.2 201.7 279.2 205.4C279.2 209.1 281.1 218.3 281.3 222.9C281.5 227.5 281.0 236.6 280.9 240.0C280.8 243.4 280.0 246.8 280.2 248.3C280.4 249.8 281.7 251.3 282.5 251.5C283.3 251.7 285.5 249.8 286.0 249.5" fill="none" stroke="#9b4330" stroke-width="1.1" stroke-linecap="round" stroke-linejoin="round"/>
<path d="M286.0 245.0C286.0 245.6 285.7 248.4 286.0 249.5C286.3 250.6 287.3 253.1 288.0 253.5C288.7 253.9 291.0 253.3 291.5 252.5C292.0 251.7 291.5 248.2 291.5 247.5" fill="none" stroke="#9b4330" stroke-width="0.9" stroke-linecap="round" stroke-linejoin="round"/>
<path d="M291.5 252.5C291.8 252.9 293.2 255.3 294.0 255.5C294.8 255.7 297.1 254.9 297.5 254.0C297.9 253.1 297.1 249.2 297.0 248.5" fill="none" stroke="#9b4330" stroke-width="0.9" stroke-linecap="round" stroke-linejoin="round"/>
<path d="M297.5 254.0C297.9 254.1 299.8 255.3 300.5 255.0C301.2 254.7 302.2 252.0 302.5 251.5" fill="none" stroke="#9b4330" stroke-width="0.9" stroke-linecap="round" stroke-linejoin="round"/>
<path d="M310.5 192.3C310.7 193.3 311.7 197.9 312.0 200.0C312.3 202.1 313.2 205.6 312.7 208.3C312.2 211.0 308.8 217.4 308.3 220.0C307.8 222.6 308.5 226.0 309.0 228.0C309.5 230.0 311.6 234.1 312.0 235.0" fill="none" stroke="#9b4330" stroke-width="0.9" stroke-linecap="round" stroke-linejoin="round"/>
<path d="M318.5 196.6C318.2 197.5 316.8 201.4 316.0 203.0C315.2 204.6 313.1 207.6 312.7 208.3" fill="none" stroke="#9b4330" stroke-width="0.9" stroke-linecap="round" stroke-linejoin="round"/>
<path d="M313.0 209.5C313.7 210.0 316.7 212.0 318.0 213.0C319.3 214.0 321.5 216.3 322.9 217.0C324.3 217.7 327.8 218.3 328.5 218.5" fill="none" stroke="#9b4330" stroke-width="0.9" stroke-linecap="round" stroke-linejoin="round"/>
<path d="M322.9 217.0C323.2 217.7 324.8 220.8 325.0 222.0C325.2 223.2 324.6 225.5 324.5 226.0" fill="none" stroke="#9b4330" stroke-width="0.8" stroke-linecap="round" stroke-linejoin="round"/>
<path d="M320.5 215.0C320.7 215.7 321.8 219.8 322.0 220.5" fill="none" stroke="#9b4330" stroke-width="0.8" stroke-linecap="round" stroke-linejoin="round"/>
<path d="M294.3 266.0C295.1 262.7 297.1 257.6 299.4 254.7C301.7 251.8 308.0 246.5 311.8 244.4C315.6 242.3 323.5 240.0 328.2 239.3C332.9 238.6 341.6 238.6 346.8 239.3C352.0 240.0 361.9 242.3 367.4 244.4C372.9 246.5 383.1 251.7 388.0 254.7C392.9 257.7 400.8 263.5 404.4 267.1C408.0 270.7 412.6 277.4 414.7 281.5C416.8 285.6 419.4 293.8 419.9 297.9C420.4 302.0 419.8 308.8 418.8 312.4C417.8 316.0 415.2 321.4 412.7 324.7C410.2 328.0 404.2 334.5 400.3 337.1C396.4 339.7 388.2 343.1 383.8 344.3C379.4 345.5 371.8 346.6 367.4 346.3C363.0 346.0 355.6 344.0 350.9 342.2C346.2 340.4 337.1 335.9 332.4 333.0C327.7 330.1 319.8 323.9 315.9 320.6C312.0 317.3 306.2 311.8 303.5 308.2C300.8 304.6 296.7 297.6 295.3 293.8C293.9 290.0 293.3 283.1 293.2 279.4C293.1 275.7 293.5 269.3 294.3 266.0Z" fill="url(#headg)" stroke="#9b4330" stroke-width="1.2" />
<clipPath id="hc"><path d="M294.3 266.0C295.1 262.7 297.1 257.6 299.4 254.7C301.7 251.8 308.0 246.5 311.8 244.4C315.6 242.3 323.5 240.0 328.2 239.3C332.9 238.6 341.6 238.6 346.8 239.3C352.0 240.0 361.9 242.3 367.4 244.4C372.9 246.5 383.1 251.7 388.0 254.7C392.9 257.7 400.8 263.5 404.4 267.1C408.0 270.7 412.6 277.4 414.7 281.5C416.8 285.6 419.4 293.8 419.9 297.9C420.4 302.0 419.8 308.8 418.8 312.4C417.8 316.0 415.2 321.4 412.7 324.7C410.2 328.0 404.2 334.5 400.3 337.1C396.4 339.7 388.2 343.1 383.8 344.3C379.4 345.5 371.8 346.6 367.4 346.3C363.0 346.0 355.6 344.0 350.9 342.2C346.2 340.4 337.1 335.9 332.4 333.0C327.7 330.1 319.8 323.9 315.9 320.6C312.0 317.3 306.2 311.8 303.5 308.2C300.8 304.6 296.7 297.6 295.3 293.8C293.9 290.0 293.3 283.1 293.2 279.4C293.1 275.7 293.5 269.3 294.3 266.0Z"/></clipPath>
<path d="M293.0 296.0C293.9 294.4 299.1 301.8 301.8 303.3C304.5 304.8 310.4 306.5 313.5 307.3C316.6 308.1 323.1 308.2 325.3 309.2C327.5 310.2 328.7 313.4 330.0 314.5C331.3 315.6 332.8 316.8 335.1 317.1C337.4 317.4 344.6 316.6 346.9 317.1C349.2 317.6 350.4 320.2 352.0 321.0C353.6 321.8 355.6 322.1 358.6 322.9C361.6 323.7 370.4 326.4 374.3 326.9C378.2 327.4 384.6 327.7 388.0 326.9C391.4 326.1 396.9 323.1 399.8 321.0C402.7 318.9 407.5 314.1 409.6 311.2C411.7 308.3 414.4 302.8 415.5 299.4C416.6 296.0 416.2 287.6 417.5 285.7C418.8 283.8 423.6 280.4 425.0 285.0C426.4 289.6 430.7 311.3 428.0 320.0C425.3 328.7 414.1 345.3 405.0 350.0C395.9 354.7 371.3 356.3 360.0 355.0C348.7 353.7 328.7 345.3 320.0 340.0C311.3 334.7 298.6 320.9 295.0 315.0C291.4 309.1 292.1 297.6 293.0 296.0Z" fill="#f9cfb9" stroke="none" stroke-width="1" clip-path="url(#hc)"/>
<path d="M294.3 266.0C295.1 262.7 297.1 257.6 299.4 254.7C301.7 251.8 308.0 246.5 311.8 244.4C315.6 242.3 323.5 240.0 328.2 239.3C332.9 238.6 341.6 238.6 346.8 239.3C352.0 240.0 361.9 242.3 367.4 244.4C372.9 246.5 383.1 251.7 388.0 254.7C392.9 257.7 400.8 263.5 404.4 267.1C408.0 270.7 412.6 277.4 414.7 281.5C416.8 285.6 419.4 293.8 419.9 297.9C420.4 302.0 419.8 308.8 418.8 312.4C417.8 316.0 415.2 321.4 412.7 324.7C410.2 328.0 404.2 334.5 400.3 337.1C396.4 339.7 388.2 343.1 383.8 344.3C379.4 345.5 371.8 346.6 367.4 346.3C363.0 346.0 355.6 344.0 350.9 342.2C346.2 340.4 337.1 335.9 332.4 333.0C327.7 330.1 319.8 323.9 315.9 320.6C312.0 317.3 306.2 311.8 303.5 308.2C300.8 304.6 296.7 297.6 295.3 293.8C293.9 290.0 293.3 283.1 293.2 279.4C293.1 275.7 293.5 269.3 294.3 266.0Z" fill="none" stroke="#9b4330" stroke-width="1.2" />
<path d="M301.0 262.0C299.5 263.3 297.5 269.3 297.0 274.0C296.5 278.7 296.7 285.0 298.0 290.0C299.3 295.0 302.0 299.7 305.0 304.0C308.0 308.3 311.8 312.3 316.0 316.0C320.2 319.7 325.2 323.5 330.0 326.0C334.8 328.5 344.2 331.7 345.0 331.0C345.8 330.3 338.8 325.5 335.0 322.0C331.2 318.5 325.8 314.3 322.0 310.0C318.2 305.7 314.5 301.0 312.0 296.0C309.5 291.0 308.0 285.0 307.0 280.0C306.0 275.0 307.0 269.0 306.0 266.0C305.0 263.0 302.5 260.7 301.0 262.0Z" fill="#fad3be" stroke="none" stroke-width="1" />
<path d="M338.0 278.0C337.2 278.7 335.2 286.3 335.0 290.0C334.8 293.7 335.7 297.3 337.0 300.0C338.3 302.7 342.5 306.7 343.0 306.0C343.5 305.3 340.5 299.3 340.0 296.0C339.5 292.7 340.3 289.0 340.0 286.0C339.7 283.0 338.8 277.3 338.0 278.0Z" fill="#f9ccb8" stroke="none" stroke-width="1" />
<path d="M344.3 240.5C344.9 240.1 348.4 239.0 351.0 238.9C353.6 238.8 360.8 239.7 363.6 240.1C366.4 240.5 370.6 241.2 372.0 241.8C373.4 242.4 374.3 243.9 374.1 244.7C373.9 245.5 371.7 247.8 370.3 248.1C368.9 248.4 365.6 247.9 363.6 247.3C361.6 246.7 357.4 244.6 355.2 243.9C353.0 243.2 348.3 242.3 346.8 241.8C345.3 241.3 343.7 240.9 344.3 240.5Z" fill="#fde9dc" stroke="#9b4330" stroke-width="0.9" />
<path d="M352.0 240.8C352.8 241.0 356.5 241.6 358.0 242.0C359.5 242.4 362.3 243.7 363.0 244.0" fill="none" stroke="#c47a66" stroke-width="0.7" stroke-linecap="round" stroke-linejoin="round"/>
<path d="M361.0 242.0C361.7 242.1 364.8 242.2 366.0 242.5C367.2 242.8 369.5 244.2 370.0 244.5" fill="none" stroke="#c47a66" stroke-width="0.7" stroke-linecap="round" stroke-linejoin="round"/>
<path d="M296.0 266.0C297.0 263.7 299.5 262.3 302.0 262.0C304.5 261.7 309.2 262.3 311.0 264.0C312.8 265.7 313.5 269.2 313.0 272.0C312.5 274.8 310.2 279.0 308.0 281.0C305.8 283.0 302.0 284.8 300.0 284.0C298.0 283.2 296.7 279.0 296.0 276.0C295.3 273.0 295.0 268.3 296.0 266.0Z" fill="#f9d0bc" stroke="none" stroke-width="1" />
<path d="M337.0 276.0C337.9 275.5 340.2 276.7 341.0 279.0C341.8 281.3 342.0 286.2 342.0 290.0C342.0 293.8 341.6 299.2 341.0 302.0C340.4 304.8 339.4 307.0 338.5 307.0C337.6 307.0 336.1 304.8 335.8 302.0C335.5 299.2 336.6 293.3 336.5 290.0C336.4 286.7 335.4 284.3 335.5 282.0C335.6 279.7 336.1 276.5 337.0 276.0Z" fill="#f9cfbb" stroke="none" stroke-width="1" />
<path d="M312.0 293.0C312.8 290.7 316.3 289.2 318.0 289.0C319.7 288.8 322.0 290.2 322.0 292.0C322.0 293.8 319.5 298.2 318.0 300.0C316.5 301.8 314.0 304.2 313.0 303.0C312.0 301.8 311.2 295.3 312.0 293.0Z" fill="#f9d0bc" stroke="none" stroke-width="1" />
<path d="M319.5 255.4C318.8 255.9 315.7 258.2 314.5 259.5C313.3 260.8 311.0 264.4 310.5 265.1" fill="none" stroke="#9b4330" stroke-width="1.0" stroke-linecap="round" stroke-linejoin="round"/>
<path d="M311.8 256.1C311.2 256.8 308.0 260.0 307.0 261.5C306.0 263.0 304.8 266.3 304.1 267.7C303.4 269.1 302.4 271.6 302.1 272.2" fill="none" stroke="#9b4330" stroke-width="1.0" stroke-linecap="round" stroke-linejoin="round"/>
<path d="M309.2 266.4C308.7 267.1 306.3 270.4 305.5 272.0C304.7 273.6 303.7 277.7 303.4 278.6" fill="none" stroke="#9b4330" stroke-width="0.9" stroke-linecap="round" stroke-linejoin="round"/>
<path d="M326.6 263.2C325.7 263.4 322.7 263.5 321.4 264.4C320.1 265.2 319.8 267.2 318.9 268.3C317.9 269.4 316.1 269.7 315.7 270.9C315.3 272.1 316.7 274.1 316.3 275.4C315.9 276.7 313.8 277.6 313.1 278.6C312.5 279.6 312.0 280.4 312.4 281.2C312.8 282.0 314.7 283.4 315.7 283.7C316.7 284.0 317.8 283.2 318.2 283.1" fill="none" stroke="#9b4330" stroke-width="1.0" stroke-linecap="round" stroke-linejoin="round"/>
<path d="M326.6 270.2C326.9 270.0 328.1 269.3 328.5 269.0C328.9 268.7 329.6 268.4 329.8 268.3" fill="none" stroke="#9b4330" stroke-width="0.8" stroke-linecap="round" stroke-linejoin="round"/>
<path d="M322.1 281.2C322.4 281.4 323.5 282.2 324.0 282.5C324.5 282.8 325.6 283.0 325.9 283.1" fill="none" stroke="#9b4330" stroke-width="0.8" stroke-linecap="round" stroke-linejoin="round"/>
<path d="M351.0 254.1C350.3 254.8 346.8 258.0 345.5 259.5C344.2 261.0 341.9 264.9 341.4 265.7" fill="none" stroke="#9b4330" stroke-width="1.0" stroke-linecap="round" stroke-linejoin="round"/>
<path d="M342.7 257.4C342.3 257.8 340.4 259.6 339.8 260.5C339.2 261.4 338.5 262.8 338.2 264.4C337.9 266.0 337.6 271.2 337.5 272.2" fill="none" stroke="#9b4330" stroke-width="0.9" stroke-linecap="round" stroke-linejoin="round"/>
<path d="M339.4 267.0C339.3 267.7 338.6 270.6 338.4 272.0C338.2 273.4 338.2 276.6 338.2 277.3" fill="none" stroke="#9b4330" stroke-width="0.8" stroke-linecap="round" stroke-linejoin="round"/>
<path d="M350.4 261.2C350.2 261.8 349.3 265.1 349.1 265.7" fill="none" stroke="#9b4330" stroke-width="0.8" stroke-linecap="round" stroke-linejoin="round"/>
<path d="M324.7 288.9C323.8 289.2 319.6 290.4 318.2 291.4C316.8 292.4 314.9 295.9 314.4 296.6" fill="none" stroke="#9b4330" stroke-width="1.0" stroke-linecap="round" stroke-linejoin="round"/>
<path d="M326.6 289.5C325.7 290.1 320.8 292.7 319.5 294.0C318.2 295.3 317.0 297.6 316.5 299.0C316.0 300.4 315.8 303.6 315.7 304.3" fill="none" stroke="#9b4330" stroke-width="0.9" stroke-linecap="round" stroke-linejoin="round"/>
<path d="M327.2 290.2C327.3 290.9 328.0 294.1 327.9 295.3C327.8 296.5 326.8 298.7 326.6 299.2" fill="none" stroke="#9b4330" stroke-width="0.8" stroke-linecap="round" stroke-linejoin="round"/>
<path d="M305.5 314.0C306.0 313.7 309.5 315.4 311.0 316.5C312.5 317.6 315.4 320.6 317.0 322.0C318.6 323.4 321.5 326.0 323.0 327.0C324.5 328.0 327.5 328.8 328.0 329.5C328.5 330.2 327.6 331.9 326.5 332.0C325.4 332.1 321.8 330.9 320.0 330.0C318.2 329.1 314.7 326.5 313.0 325.0C311.3 323.5 308.0 320.5 307.0 319.0C306.0 317.5 305.0 314.3 305.5 314.0Z" fill="#fdeee4" stroke="#9b4330" stroke-width="0.9" />
<path d="M311.5 319.0C311.9 318.8 314.1 317.7 314.5 317.5" fill="none" stroke="#9b4330" stroke-width="0.8" stroke-linecap="round" stroke-linejoin="round"/>
<path d="M316.5 324.0C316.9 323.7 319.1 322.3 319.5 322.0" fill="none" stroke="#9b4330" stroke-width="0.8" stroke-linecap="round" stroke-linejoin="round"/>
<path d="M321.5 328.0C321.8 327.7 323.7 326.3 324.0 326.0" fill="none" stroke="#9b4330" stroke-width="0.8" stroke-linecap="round" stroke-linejoin="round"/>
<path d="M438.2 307.8C439.9 307.7 443.0 313.3 444.4 314.0C445.8 314.7 447.3 313.9 448.5 312.9C449.7 311.9 452.2 309.0 453.7 306.8C455.2 304.6 458.2 299.2 459.8 296.5C461.4 293.8 464.5 288.4 466.0 286.2C467.5 284.0 468.7 282.6 471.2 280.0C473.7 277.4 482.5 267.5 484.8 267.0C487.1 266.5 487.8 272.8 488.5 276.0C489.2 279.2 490.7 288.7 490.0 291.3C489.3 293.9 485.7 293.7 483.5 295.4C481.3 297.1 475.8 301.2 473.2 303.7C470.6 306.2 466.3 311.1 464.0 314.0C461.7 316.9 457.9 322.6 456.0 325.5C454.1 328.4 452.0 333.1 450.0 336.0C448.0 338.9 443.7 344.5 441.0 347.0C438.3 349.5 432.4 353.4 430.0 354.5C427.6 355.6 424.3 355.9 423.0 355.0C421.7 354.1 419.7 351.3 420.0 348.0C420.3 344.7 423.4 334.4 425.0 330.0C426.6 325.6 430.2 318.0 432.0 315.0C433.8 312.0 436.5 307.9 438.2 307.8Z" fill="#f5a492" stroke="none" stroke-width="1" />
<path d="M469.1 296.0C469.2 295.4 472.2 291.9 473.0 291.0C473.8 290.1 474.7 290.4 475.3 289.5C475.9 288.6 476.4 285.4 477.3 284.1C478.2 282.8 480.7 281.3 482.0 280.0C483.3 278.7 486.1 274.4 487.0 274.5C487.9 274.6 488.6 279.5 488.7 281.0C488.8 282.5 488.5 284.7 487.9 285.5C487.3 286.3 485.3 286.7 484.5 287.0C483.7 287.3 482.5 287.1 481.7 287.6C480.9 288.1 479.3 290.0 478.5 290.5C477.7 291.0 476.5 290.5 475.6 291.2C474.7 291.9 472.9 294.9 472.0 295.5C471.1 296.1 469.0 296.6 469.1 296.0Z" fill="#ee8577" stroke="#9b4330" stroke-width="0.9" />
<path d="M444.1 328.2C443.9 327.6 442.9 325.5 442.8 324.5C442.7 323.5 442.9 322.5 443.4 322.2C443.9 321.9 445.4 323.2 446.0 322.8C446.6 322.4 446.2 320.3 447.0 319.5C447.8 318.7 449.9 318.0 450.6 318.1C451.4 318.2 451.0 320.6 451.5 320.0C452.0 319.4 452.6 315.9 453.5 314.8C454.4 313.7 456.2 314.2 456.8 313.5C457.4 312.8 456.6 311.2 457.0 310.5C457.4 309.8 459.0 310.3 459.5 309.5C460.0 308.7 459.4 306.3 460.0 305.5C460.6 304.7 462.4 305.2 462.9 304.5C463.4 303.8 462.7 301.8 463.2 301.0C463.7 300.2 465.4 300.7 466.0 300.0C466.6 299.3 466.0 297.6 466.5 297.0C467.0 296.4 468.7 296.6 469.1 296.5" fill="none" stroke="#9b4330" stroke-width="1.4" />
<path d="M490.0 291.3C488.9 292.0 486.3 293.3 483.5 295.4C480.7 297.5 476.4 300.6 473.2 303.7C469.9 306.8 466.9 310.4 464.0 314.0C461.1 317.6 458.3 321.8 456.0 325.5C453.7 329.2 452.5 332.4 450.0 336.0C447.5 339.6 444.3 343.9 441.0 347.0C437.7 350.1 434.0 352.6 430.0 354.5C426.0 356.4 419.2 357.8 417.0 358.5" fill="none" stroke="#9b4330" stroke-width="1.2" />
<path d="M428.7 331.3C429.2 330.2 434.0 331.9 436.0 331.6C438.0 331.3 443.4 328.7 444.0 329.2C444.6 329.7 441.5 333.8 440.5 335.5C439.5 337.2 437.9 340.4 436.8 342.0C435.7 343.6 432.9 347.8 432.3 347.5C431.7 347.2 433.1 341.7 432.6 339.5C432.1 337.3 428.2 332.4 428.7 331.3Z" fill="#c9766b" stroke="#9b4330" stroke-width="1.0" />
<path d="M414.8 323.5C416.0 324.2 419.7 326.7 422.0 328.0C424.3 329.3 427.6 330.8 428.7 331.3" fill="none" stroke="#9b4330" stroke-width="1.1" />
<path d="M444.2 328.5C443.8 329.6 442.6 332.8 441.5 335.0C440.4 337.2 439.2 338.9 437.3 341.6C435.4 344.3 432.5 349.0 430.4 351.0C428.3 353.0 426.1 353.6 424.5 353.6C422.9 353.7 421.6 351.7 421.0 351.3" fill="none" stroke="#9b4330" stroke-width="1.1" />
<path d="M380.0 231.1C378.0 231.7 393.0 239.2 397.1 242.3C401.2 245.4 407.8 251.7 410.9 254.3C414.0 256.9 417.5 258.5 420.0 262.0C422.5 265.5 427.4 276.3 429.3 280.9C431.2 285.5 432.9 292.9 434.1 296.5C435.3 300.1 436.8 305.5 438.2 307.8C439.6 310.1 443.0 313.3 444.4 314.0C445.8 314.7 447.3 313.9 448.5 312.9C449.7 311.9 452.2 309.0 453.7 306.8C455.2 304.6 458.2 299.2 459.8 296.5C461.4 293.8 464.5 288.4 466.0 286.2C467.5 284.0 468.7 282.6 471.2 280.0C473.7 277.4 483.4 270.2 484.8 267.0C486.2 263.8 485.0 256.7 482.0 256.0C479.0 255.3 467.6 262.5 462.0 262.0C456.4 261.5 446.7 255.2 440.0 252.0C433.3 248.8 420.0 240.8 412.0 238.0C404.0 235.2 382.0 230.5 380.0 231.1Z" fill="#fbdcb6" stroke="none" stroke-width="1" />
<path d="M380.0 231.1C382.3 232.6 393.0 239.2 397.1 242.3C401.2 245.4 407.8 251.7 410.9 254.3C414.0 256.9 417.5 258.5 420.0 262.0C422.5 265.5 427.4 276.3 429.3 280.9C431.2 285.5 432.9 292.9 434.1 296.5C435.3 300.1 436.8 305.5 438.2 307.8C439.6 310.1 443.0 313.3 444.4 314.0C445.8 314.7 447.3 313.9 448.5 312.9C449.7 311.9 452.2 309.0 453.7 306.8C455.2 304.6 458.2 299.2 459.8 296.5C461.4 293.8 464.5 288.4 466.0 286.2C467.5 284.0 468.7 282.6 471.2 280.0C473.7 277.4 483.0 268.7 484.8 267.0" fill="none" stroke="#b5523f" stroke-width="1.0" />
<path d="M438.2 307.8C439.0 308.6 443.0 313.3 444.4 314.0C445.8 314.7 447.3 313.9 448.5 312.9C449.7 311.9 452.2 309.0 453.7 306.8C455.2 304.6 458.2 299.2 459.8 296.5C461.4 293.8 464.5 288.4 466.0 286.2C467.5 284.0 468.7 282.6 471.2 280.0C473.7 277.4 483.0 268.7 484.8 267.0" fill="none" stroke="#9b4330" stroke-width="1.1" />
<path d="M411.6 245.9C412.0 244.6 415.1 242.5 418.1 243.0C421.1 243.5 430.1 247.4 434.2 249.6C438.3 251.8 445.5 257.8 448.8 259.8C452.1 261.8 456.1 265.1 459.0 264.9C461.9 264.7 467.7 260.0 470.6 258.3C473.5 256.6 478.7 252.1 480.5 252.5C482.3 252.9 484.9 259.4 484.0 261.3C483.1 263.2 476.3 264.7 473.6 266.4C470.9 268.1 465.4 272.0 463.8 274.4C462.2 276.8 462.9 281.5 461.9 284.6C460.9 287.7 457.6 294.6 456.0 297.7C454.4 300.8 451.6 306.3 450.2 307.9C448.8 309.5 447.0 310.0 445.8 309.6C444.6 309.2 442.6 307.2 441.5 305.0C440.4 302.8 439.0 296.8 437.8 293.3C436.6 289.8 434.5 282.9 432.7 278.8C430.9 274.7 426.3 266.2 424.0 262.7C421.7 259.2 416.9 254.7 415.2 252.5C413.5 250.3 411.2 247.2 411.6 245.9Z" fill="#efb49f" stroke="#e39c86" stroke-width="0.8" />
<path d="M458.0 271.5C458.7 271.5 461.4 272.3 463.3 271.5C465.2 270.7 469.6 267.1 472.0 265.5C474.4 263.9 480.2 260.3 481.5 259.5" fill="none" stroke="#d9928a" stroke-width="1.6" />
<path d="M422.5 254.0C423.2 253.7 431.7 255.7 434.2 256.9C436.7 258.1 445.3 264.2 447.3 265.6C449.3 267.0 453.1 269.9 454.6 270.7C456.1 271.5 461.5 272.2 461.9 273.6C462.3 275.0 459.9 282.3 459.0 284.6C458.1 286.9 454.2 294.7 453.1 296.3C452.0 297.9 448.9 300.8 448.0 300.8C447.1 300.8 445.2 298.1 444.4 296.3C443.6 294.5 441.0 285.9 440.0 283.1C439.0 280.3 435.5 270.8 434.2 268.5C432.9 266.2 428.1 261.2 426.9 259.8C425.7 258.4 421.8 254.3 422.5 254.0Z" fill="#d68d84" stroke="none" stroke-width="1" />
<path d="M434.9 262.7C435.5 261.8 443.8 266.7 445.8 267.8C447.8 268.9 453.3 272.9 454.6 273.7C455.9 274.4 458.9 274.4 459.0 275.3C459.1 276.2 456.7 281.3 456.0 283.1C455.3 284.9 452.5 291.8 451.7 293.3C450.9 294.8 448.6 298.0 448.0 298.4C447.4 298.8 446.2 298.4 445.8 297.5C445.4 296.6 444.3 291.0 443.7 289.0C443.1 287.0 440.9 279.9 440.0 277.3C439.1 274.7 434.3 263.6 434.9 262.7Z" fill="#e9b0aa" stroke="none" stroke-width="1" />
<path d="M446.5 296.0C446.8 295.2 447.7 292.8 448.5 291.0C449.3 289.2 451.0 286.0 451.5 285.0" fill="none" stroke="#f6d9d6" stroke-width="1.8" stroke-linecap="round"/>
<path d="M490.0 291.3C491.7 290.6 494.5 290.4 496.0 291.0C497.5 291.6 499.8 293.6 501.3 295.5C502.8 297.4 506.0 302.7 507.0 305.3C508.0 307.9 508.4 312.4 508.5 315.0C508.6 317.6 510.1 323.3 507.9 324.5C505.7 325.7 495.8 324.4 491.9 323.8C488.0 323.2 481.5 320.2 478.7 320.0C475.9 319.8 472.8 321.0 471.1 322.3C469.4 323.6 467.9 326.8 466.0 330.0C464.1 333.2 459.5 341.7 457.0 346.0C454.5 350.3 450.1 360.4 447.0 362.0C443.9 363.6 434.8 359.9 434.0 358.0C433.2 356.1 438.9 350.4 441.0 347.5C443.1 344.6 448.0 339.4 450.0 336.5C452.0 333.6 454.1 328.9 456.0 326.0C457.9 323.1 461.7 317.4 464.0 314.5C466.3 311.6 470.6 306.7 473.2 304.2C475.8 301.7 481.3 297.6 483.5 295.9C485.7 294.2 488.3 292.0 490.0 291.3Z" fill="#fbdab2" stroke="none" stroke-width="1" />
<path d="M490.0 291.3C491.0 291.2 494.1 290.3 496.0 291.0C497.9 291.7 499.5 293.1 501.3 295.5C503.1 297.9 505.8 302.1 507.0 305.3C508.2 308.6 508.4 311.8 508.5 315.0C508.6 318.2 508.0 322.9 507.9 324.5" fill="none" stroke="#eda588" stroke-width="0.9" />
<path d="M346.3 367.9C346.6 367.2 352.3 367.1 355.1 367.9C357.9 368.7 367.7 374.3 370.3 375.0C372.9 375.7 376.0 374.3 377.8 373.8C379.6 373.3 383.5 370.8 385.4 370.6C387.3 370.4 392.4 371.4 394.2 372.0C396.0 372.6 398.9 375.3 400.5 375.5C402.1 375.7 406.3 373.9 408.1 373.8C409.9 373.7 414.1 374.5 415.6 375.0C417.1 375.5 419.2 378.2 420.7 378.0C422.2 377.8 426.4 373.9 428.2 373.2C430.0 372.5 434.3 372.9 435.8 372.0C437.3 371.1 439.3 367.3 440.8 365.4C442.3 363.5 446.3 357.9 448.4 355.3C450.5 352.7 456.4 345.6 458.5 342.7C460.6 339.8 464.5 332.4 466.0 330.1C467.5 327.8 469.8 323.9 471.1 322.6C472.4 321.3 475.9 319.3 477.5 319.3C479.1 319.3 482.5 321.6 484.4 322.3C486.3 323.0 491.6 325.1 494.2 325.6C496.8 326.1 505.5 325.8 507.0 326.2C508.5 326.6 508.5 328.6 507.0 329.0C505.5 329.4 496.8 329.3 494.2 329.2C491.6 329.1 486.1 328.3 484.4 328.3C482.7 328.3 480.5 328.7 479.5 329.5C478.5 330.3 476.8 332.5 476.1 335.2C475.4 337.9 474.2 349.0 473.6 352.8C473.0 356.6 472.3 364.7 471.1 367.9C469.9 371.1 465.9 378.0 463.5 380.5C461.1 383.0 453.5 388.7 450.9 389.6C448.3 390.5 442.4 387.9 440.8 388.3C439.2 388.7 438.3 391.8 437.1 393.1C435.9 394.4 432.4 398.6 430.8 399.7C429.2 400.8 424.8 402.4 423.2 402.2C421.6 402.0 418.1 398.2 416.9 398.2C415.7 398.2 414.7 401.6 413.1 402.2C411.5 402.8 405.4 403.8 403.0 403.5C400.6 403.2 394.7 400.9 392.9 399.7C391.1 398.5 390.0 394.6 387.9 393.1C385.8 391.6 377.9 388.3 375.3 386.8C372.7 385.3 367.8 382.0 365.2 380.5C362.6 379.0 354.8 375.7 352.6 374.2C350.4 372.7 346.0 368.6 346.3 367.9Z" fill="#f0ad9d" stroke="#dd8a78" stroke-width="0.9" />
<path d="M484.0 325.3C485.7 325.6 490.6 327.0 494.2 327.4C497.8 327.8 503.6 327.6 505.5 327.6" fill="none" stroke="#fbdab2" stroke-width="1.6" />
<path d="M471.3 328.0C470.3 328.7 467.8 335.1 466.0 338.0C464.2 340.9 460.0 347.0 458.0 350.0C456.0 353.0 452.9 357.7 450.9 360.4C448.9 363.1 444.4 367.8 443.0 370.0C441.6 372.2 440.4 375.2 440.5 377.0C440.6 378.8 441.7 382.3 443.4 383.3C445.1 384.3 450.7 385.6 453.4 384.6C456.1 383.6 461.4 378.4 463.5 375.5C465.6 372.6 468.5 366.9 469.5 362.9C470.5 358.9 470.8 349.3 471.3 345.3C471.8 341.3 473.3 335.3 473.3 333.0C473.3 330.7 472.3 327.3 471.3 328.0Z" fill="#eba8a4" stroke="#d98b84" stroke-width="0.8" />
<path d="M464.0 350.0C463.5 352.0 462.5 358.3 461.0 362.0C459.5 365.7 457.0 369.4 455.0 372.0C453.0 374.6 450.0 376.6 449.0 377.5" fill="none" stroke="#f5cdc8" stroke-width="2.4" stroke-linecap="round"/>
<path d="M468.0 340.0C467.8 341.7 466.8 348.3 466.5 350.0" fill="none" stroke="#f5cdc8" stroke-width="1.6" stroke-linecap="round"/>
<path d="M421.0 379.0C422.0 377.2 425.1 376.2 427.0 375.8C428.9 375.4 432.5 375.1 434.0 376.0C435.5 376.9 436.8 379.9 437.0 382.0C437.2 384.1 436.6 388.0 435.5 390.0C434.4 392.0 431.7 394.8 430.0 395.5C428.3 396.2 425.5 396.1 424.0 395.0C422.5 393.9 420.8 390.4 420.3 388.0C419.9 385.6 420.0 380.8 421.0 379.0Z" fill="#eba8a4" stroke="#d98b84" stroke-width="0.8" />
<path d="M424.5 383.0C424.6 384.0 424.2 387.4 425.0 389.0C425.8 390.6 428.3 391.9 429.0 392.5" fill="none" stroke="#f5cdc8" stroke-width="1.8" stroke-linecap="round"/>
<path d="M393.5 383.0C394.6 381.3 397.0 379.5 399.0 378.8C401.0 378.1 404.8 377.9 407.0 378.5C409.2 379.1 412.4 381.1 413.5 383.0C414.6 384.9 414.7 388.8 414.2 391.0C413.7 393.2 411.8 396.6 410.0 398.0C408.2 399.4 404.7 400.7 402.5 400.5C400.3 400.3 397.1 398.1 395.5 396.5C393.9 394.9 392.3 392.0 392.0 390.0C391.7 388.0 392.4 384.7 393.5 383.0Z" fill="#eba8a4" stroke="#d98b84" stroke-width="0.8" />
<path d="M397.0 386.0C397.1 387.0 396.7 390.2 397.5 392.0C398.3 393.8 401.2 395.8 402.0 396.5" fill="none" stroke="#f5cdc8" stroke-width="1.8" stroke-linecap="round"/>
<path d="M375.5 379.0C376.2 377.9 379.4 376.2 381.0 376.0C382.6 375.8 384.6 377.6 386.0 377.5C387.4 377.4 389.0 375.4 390.5 375.5C392.0 375.6 395.1 376.6 396.0 378.0C396.9 379.4 397.0 382.7 396.5 384.5C396.0 386.3 393.9 389.2 392.5 390.0C391.1 390.8 388.3 390.0 387.0 389.5C385.7 389.0 385.1 386.9 384.0 386.5C382.9 386.1 380.7 386.9 379.5 386.5C378.3 386.1 376.6 384.6 376.0 383.5C375.4 382.4 374.8 380.1 375.5 379.0Z" fill="#eba8a4" stroke="#d98b84" stroke-width="0.8" />
<path d="M379.0 380.0C379.4 380.6 381.1 382.9 381.5 383.5" fill="none" stroke="#f5cdc8" stroke-width="1.5" stroke-linecap="round"/>
<path d="M388.5 380.0C388.8 380.8 389.8 384.2 390.0 385.0" fill="none" stroke="#f5cdc8" stroke-width="1.5" stroke-linecap="round"/>
<path d="M353.9 370.5C354.5 370.4 358.3 371.6 360.0 372.5C361.7 373.4 365.3 376.4 367.0 377.5C368.7 378.6 372.6 380.5 373.0 381.0C373.4 381.5 371.5 381.9 370.0 381.5C368.5 381.1 363.9 379.1 362.0 378.0C360.1 376.9 356.6 374.5 355.5 373.5C354.4 372.5 353.3 370.6 353.9 370.5Z" fill="#eba8a4" stroke="#d98b84" stroke-width="0.8" />
<path d="M463.2 222.8C464.6 223.5 470.9 226.3 474.0 228.2C477.1 230.1 483.4 234.5 486.3 236.7C489.2 238.9 493.5 242.1 495.6 244.4C497.7 246.7 500.4 250.8 501.7 253.7C503.0 256.6 505.0 262.5 505.6 266.0C506.2 269.5 506.5 276.5 506.4 280.0C506.3 283.5 505.2 289.9 504.5 292.0C503.8 294.1 501.7 295.0 501.3 295.5" fill="none" stroke="#e9a088" stroke-width="0.9" />
<path d="M507.9 324.5C508.0 326.1 508.8 330.6 508.5 334.0C508.2 337.4 507.7 340.7 506.3 345.0C504.9 349.3 502.8 354.1 500.2 360.0C497.6 365.9 492.4 377.2 490.9 380.6" fill="none" stroke="#eda588" stroke-width="0.9" />
<path d="M484.8 266.0C485.2 267.3 486.7 271.2 487.5 274.0C488.3 276.8 489.1 280.1 489.5 283.0C489.9 285.9 489.9 289.9 490.0 291.3" fill="none" stroke="#9b4330" stroke-width="1.1" />
<path d="M120.0 172.0C123.3 170.0 132.5 164.2 140.0 160.0C147.5 155.8 156.4 150.8 165.0 147.0C173.6 143.2 184.1 139.3 191.4 137.1C198.7 134.9 202.9 134.5 208.6 133.7C214.3 132.8 220.0 132.1 225.7 132.0C231.4 131.9 237.2 132.4 242.9 132.9C248.6 133.4 254.3 134.1 260.0 135.1C265.7 136.1 271.4 137.1 277.1 138.9C282.8 140.7 288.6 143.0 294.3 145.7C300.0 148.4 305.7 151.4 311.4 155.1C317.1 158.8 322.9 163.7 328.6 168.0C334.3 172.3 340.0 177.1 345.7 180.9C351.4 184.8 357.2 188.2 362.9 191.1C368.6 193.9 374.3 196.1 380.0 198.0C385.7 199.9 392.9 201.2 397.1 202.3C401.3 203.4 402.6 203.8 405.0 204.3C407.4 204.9 410.2 205.4 411.2 205.6L416.8 205.6C417.7 205.3 420.5 204.5 422.4 203.6C424.3 202.7 427.1 200.9 428.0 200.3" fill="none" stroke="#9b4330" stroke-width="1.5" />
<path d="M422.4 203.6C423.3 203.1 425.2 201.9 428.0 200.3C430.8 198.7 435.5 196.0 439.2 194.1C442.9 192.2 446.7 190.7 450.4 189.0C454.1 187.3 457.9 185.6 461.6 184.0C465.3 182.4 469.7 180.8 472.8 179.5C475.9 178.2 475.5 178.1 480.0 176.2C484.5 174.3 493.2 170.9 500.0 168.2C506.8 165.5 515.8 161.8 521.0 159.8C526.2 157.8 525.0 158.3 531.5 156.3C538.0 154.3 545.2 151.6 560.0 148.0C574.8 144.4 610.0 137.2 620.0 135.0" fill="none" stroke="url(#lineg)" stroke-width="1.5" />
<path d="M165.3 149.0C169.7 147.3 184.4 141.3 191.7 139.1C199.0 136.9 203.2 136.5 208.9 135.7C214.6 134.8 220.3 134.1 226.0 134.0C231.7 133.9 237.5 134.4 243.2 134.9C248.9 135.4 254.6 136.1 260.3 137.1C266.0 138.1 271.7 139.1 277.4 140.9C283.1 142.7 288.9 145.0 294.6 147.7C300.3 150.4 306.0 153.4 311.7 157.1C317.4 160.8 323.2 165.7 328.9 170.0C334.6 174.3 340.3 179.1 346.0 182.9C351.7 186.8 357.5 190.2 363.2 193.1C368.9 195.9 374.6 198.1 380.3 200.0C386.0 201.9 393.2 203.2 397.4 204.3C401.6 205.4 403.0 205.8 405.3 206.3C407.6 206.9 410.5 207.4 411.5 207.6" fill="none" stroke="#fff6f0" stroke-width="1.1" />
</g>
<!--/ART-->
<g id="arrows" fill="none" stroke="#000" stroke-width="16.6">
<path d="M250.5 28.8A275.2 275.2 0 0 1 405.5 20.2"/>
<path d="M562.9 124.5A285.7 285.7 0 0 1 615.6 272.0"/>
<path d="M582.4 417.5A204.6 204.6 0 0 1 487.5 519.0"/>
<path d="M240.1 538.9A230.8 230.8 0 0 1 117.0 440.5"/>
<path d="M71.6 319.0A266.1 266.1 0 0 1 97.5 163.5"/>
</g>
<g id="heads" fill="#000" stroke="none">
<polygon points="408.5,5.9 457.2,34.1 400.9,34.1"/>
<polygon points="601.3,271 630.5,270.6 617.5,324.8"/>
<polygon points="481.6,505.7 495.9,531.3 441.5,545"/>
<polygon points="129,433.1 104.8,449.2 88.2,396.1"/>
<polygon points="84.5,157.9 110.6,171.5 123,116.8"/>
</g>
</svg>
<div class="t" id="t1" style="left:75px;top:38px;">Nerve impulses from<br>cervix transmitted<br>to brain</div>
<div class="t" id="t2" style="left:457px;top:38px;">Brain stimulates<br>pituitary gland to<br>secrete oxytocin</div>
<div class="t" id="t3" style="left:559px;top:329px;">Oxytocin carried<br>in bloodstream<br>to uterus</div>
<div class="t" id="t4" style="left:253px;top:486px;">Oxytocin stimulates<br>uterine contractions<br>and pushes baby<br>towards cervix</div>
<div class="t" id="t5" style="left:3px;top:329px;">Head of baby<br>pushes against<br>cervix</div>
</body></html>
